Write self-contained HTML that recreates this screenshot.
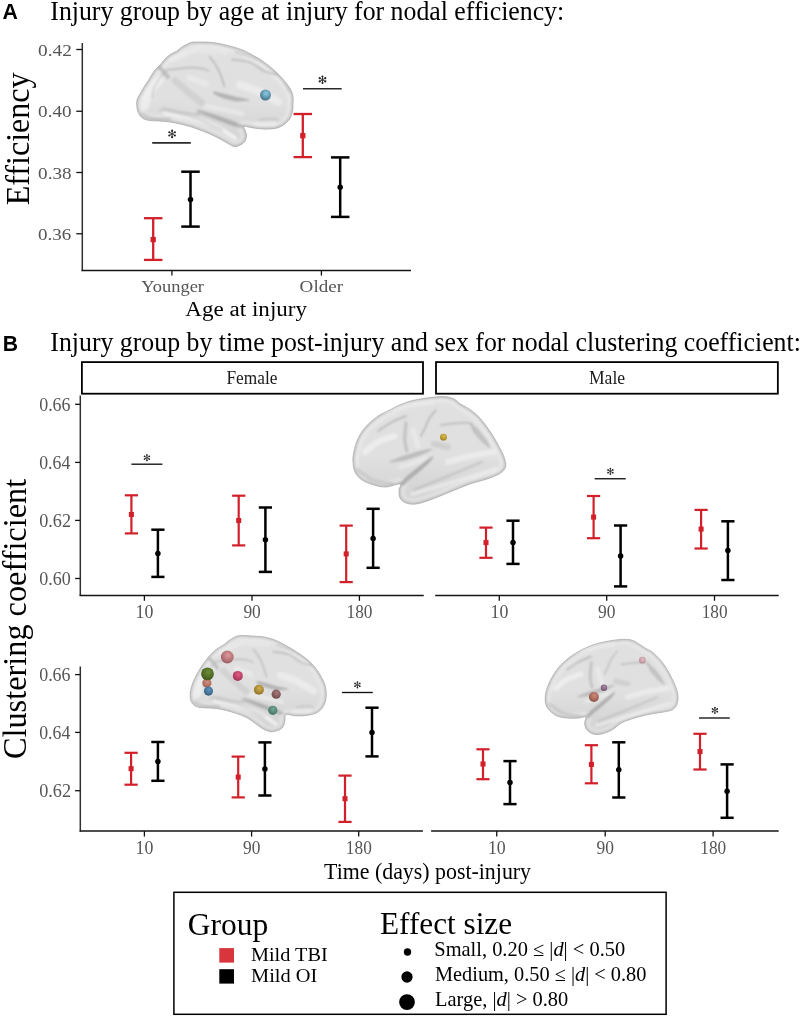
<!DOCTYPE html>
<html><head><meta charset="utf-8"><title>Figure</title>
<style>html,body{margin:0;padding:0;background:#fff;}svg{display:block;}</style></head>
<body><svg width="800" height="1017" viewBox="0 0 800 1017" style="will-change:transform">
<rect width="800" height="1017" fill="#fff"/>
<defs><filter id="soft" x="-10%" y="-10%" width="120%" height="120%"><feGaussianBlur stdDeviation="0.9"/></filter><filter id="blur2" x="-10%" y="-10%" width="120%" height="120%"><feGaussianBlur stdDeviation="1.8"/></filter></defs>
<text x="2.47" y="18.75" font-family="Liberation Sans" font-size="22" font-weight="bold" fill="#000" textLength="15.36" lengthAdjust="spacingAndGlyphs">A</text>
<text x="50.30" y="19.60" font-family="Liberation Serif" font-size="26.5" fill="#000" textLength="513.88" lengthAdjust="spacingAndGlyphs">Injury group by age at injury for nodal efficiency:</text>
<clipPath id="bc1"><path d="M200.00,42.00C196.83,42.03 194.00,41.67 191.00,42.50C188.00,43.33 184.33,45.58 182.00,47.00C179.67,48.42 178.83,49.83 177.00,51.00C175.17,52.17 173.00,52.67 171.00,54.00C169.00,55.33 166.83,57.17 165.00,59.00C163.17,60.83 161.67,63.17 160.00,65.00C158.33,66.83 156.50,68.17 155.00,70.00C153.50,71.83 152.17,74.17 151.00,76.00C149.83,77.83 149.17,79.17 148.00,81.00C146.83,82.83 145.33,84.83 144.00,87.00C142.67,89.17 141.17,91.83 140.00,94.00C138.83,96.17 137.50,97.67 137.00,100.00C136.50,102.33 136.67,105.67 137.00,108.00C137.33,110.33 138.00,112.25 139.00,114.00C140.00,115.75 141.17,117.42 143.00,118.50C144.83,119.58 147.17,120.08 150.00,120.50C152.83,120.92 156.67,120.75 160.00,121.00C163.33,121.25 166.67,121.50 170.00,122.00C173.33,122.50 176.67,123.25 180.00,124.00C183.33,124.75 186.67,125.50 190.00,126.50C193.33,127.50 196.67,128.75 200.00,130.00C203.33,131.25 206.67,132.50 210.00,134.00C213.33,135.50 217.00,137.42 220.00,139.00C223.00,140.58 225.60,142.23 228.00,143.50C230.40,144.77 232.32,146.37 234.40,146.60C236.48,146.83 238.75,145.77 240.50,144.90C242.25,144.03 243.88,142.87 244.90,141.40C245.92,139.93 246.47,137.72 246.60,136.10C246.73,134.48 246.13,133.30 245.70,131.70C245.27,130.10 243.27,127.22 244.00,126.50C244.73,125.78 247.62,127.03 250.10,127.40C252.58,127.77 255.68,128.42 258.90,128.70C262.12,128.98 266.05,129.32 269.40,129.10C272.75,128.88 276.23,128.42 279.00,127.40C281.77,126.38 284.10,124.62 286.00,123.00C287.90,121.38 289.30,119.75 290.40,117.70C291.50,115.65 292.17,113.03 292.60,110.70C293.03,108.37 292.95,106.25 293.00,103.70C293.05,101.15 293.45,98.02 292.90,95.40C292.35,92.78 291.47,90.83 289.70,88.00C287.93,85.17 284.95,81.42 282.30,78.40C279.65,75.38 277.00,72.73 273.80,69.90C270.60,67.07 266.65,63.88 263.10,61.40C259.55,58.92 256.03,56.95 252.50,55.00C248.97,53.05 245.43,51.12 241.90,49.70C238.37,48.28 234.85,47.48 231.30,46.50C227.75,45.52 224.15,44.50 220.60,43.80C217.05,43.10 213.43,42.60 210.00,42.30C206.57,42.00 203.17,41.97 200.00,42.00Z"/></clipPath>
<path d="M200.00,42.00C196.83,42.03 194.00,41.67 191.00,42.50C188.00,43.33 184.33,45.58 182.00,47.00C179.67,48.42 178.83,49.83 177.00,51.00C175.17,52.17 173.00,52.67 171.00,54.00C169.00,55.33 166.83,57.17 165.00,59.00C163.17,60.83 161.67,63.17 160.00,65.00C158.33,66.83 156.50,68.17 155.00,70.00C153.50,71.83 152.17,74.17 151.00,76.00C149.83,77.83 149.17,79.17 148.00,81.00C146.83,82.83 145.33,84.83 144.00,87.00C142.67,89.17 141.17,91.83 140.00,94.00C138.83,96.17 137.50,97.67 137.00,100.00C136.50,102.33 136.67,105.67 137.00,108.00C137.33,110.33 138.00,112.25 139.00,114.00C140.00,115.75 141.17,117.42 143.00,118.50C144.83,119.58 147.17,120.08 150.00,120.50C152.83,120.92 156.67,120.75 160.00,121.00C163.33,121.25 166.67,121.50 170.00,122.00C173.33,122.50 176.67,123.25 180.00,124.00C183.33,124.75 186.67,125.50 190.00,126.50C193.33,127.50 196.67,128.75 200.00,130.00C203.33,131.25 206.67,132.50 210.00,134.00C213.33,135.50 217.00,137.42 220.00,139.00C223.00,140.58 225.60,142.23 228.00,143.50C230.40,144.77 232.32,146.37 234.40,146.60C236.48,146.83 238.75,145.77 240.50,144.90C242.25,144.03 243.88,142.87 244.90,141.40C245.92,139.93 246.47,137.72 246.60,136.10C246.73,134.48 246.13,133.30 245.70,131.70C245.27,130.10 243.27,127.22 244.00,126.50C244.73,125.78 247.62,127.03 250.10,127.40C252.58,127.77 255.68,128.42 258.90,128.70C262.12,128.98 266.05,129.32 269.40,129.10C272.75,128.88 276.23,128.42 279.00,127.40C281.77,126.38 284.10,124.62 286.00,123.00C287.90,121.38 289.30,119.75 290.40,117.70C291.50,115.65 292.17,113.03 292.60,110.70C293.03,108.37 292.95,106.25 293.00,103.70C293.05,101.15 293.45,98.02 292.90,95.40C292.35,92.78 291.47,90.83 289.70,88.00C287.93,85.17 284.95,81.42 282.30,78.40C279.65,75.38 277.00,72.73 273.80,69.90C270.60,67.07 266.65,63.88 263.10,61.40C259.55,58.92 256.03,56.95 252.50,55.00C248.97,53.05 245.43,51.12 241.90,49.70C238.37,48.28 234.85,47.48 231.30,46.50C227.75,45.52 224.15,44.50 220.60,43.80C217.05,43.10 213.43,42.60 210.00,42.30C206.57,42.00 203.17,41.97 200.00,42.00Z" fill="#e0e0e0"/>
<linearGradient id="vg1" gradientUnits="userSpaceOnUse" x1="0" y1="42.0" x2="0" y2="146.6"><stop offset="0" stop-color="#000" stop-opacity="0"/><stop offset="0.55" stop-color="#000" stop-opacity="0"/><stop offset="1" stop-color="#000" stop-opacity="0.07"/></linearGradient>
<g clip-path="url(#bc1)">
<path d="M200.00,42.00C196.83,42.03 194.00,41.67 191.00,42.50C188.00,43.33 184.33,45.58 182.00,47.00C179.67,48.42 178.83,49.83 177.00,51.00C175.17,52.17 173.00,52.67 171.00,54.00C169.00,55.33 166.83,57.17 165.00,59.00C163.17,60.83 161.67,63.17 160.00,65.00C158.33,66.83 156.50,68.17 155.00,70.00C153.50,71.83 152.17,74.17 151.00,76.00C149.83,77.83 149.17,79.17 148.00,81.00C146.83,82.83 145.33,84.83 144.00,87.00C142.67,89.17 141.17,91.83 140.00,94.00C138.83,96.17 137.50,97.67 137.00,100.00C136.50,102.33 136.67,105.67 137.00,108.00C137.33,110.33 138.00,112.25 139.00,114.00C140.00,115.75 141.17,117.42 143.00,118.50C144.83,119.58 147.17,120.08 150.00,120.50C152.83,120.92 156.67,120.75 160.00,121.00C163.33,121.25 166.67,121.50 170.00,122.00C173.33,122.50 176.67,123.25 180.00,124.00C183.33,124.75 186.67,125.50 190.00,126.50C193.33,127.50 196.67,128.75 200.00,130.00C203.33,131.25 206.67,132.50 210.00,134.00C213.33,135.50 217.00,137.42 220.00,139.00C223.00,140.58 225.60,142.23 228.00,143.50C230.40,144.77 232.32,146.37 234.40,146.60C236.48,146.83 238.75,145.77 240.50,144.90C242.25,144.03 243.88,142.87 244.90,141.40C245.92,139.93 246.47,137.72 246.60,136.10C246.73,134.48 246.13,133.30 245.70,131.70C245.27,130.10 243.27,127.22 244.00,126.50C244.73,125.78 247.62,127.03 250.10,127.40C252.58,127.77 255.68,128.42 258.90,128.70C262.12,128.98 266.05,129.32 269.40,129.10C272.75,128.88 276.23,128.42 279.00,127.40C281.77,126.38 284.10,124.62 286.00,123.00C287.90,121.38 289.30,119.75 290.40,117.70C291.50,115.65 292.17,113.03 292.60,110.70C293.03,108.37 292.95,106.25 293.00,103.70C293.05,101.15 293.45,98.02 292.90,95.40C292.35,92.78 291.47,90.83 289.70,88.00C287.93,85.17 284.95,81.42 282.30,78.40C279.65,75.38 277.00,72.73 273.80,69.90C270.60,67.07 266.65,63.88 263.10,61.40C259.55,58.92 256.03,56.95 252.50,55.00C248.97,53.05 245.43,51.12 241.90,49.70C238.37,48.28 234.85,47.48 231.30,46.50C227.75,45.52 224.15,44.50 220.60,43.80C217.05,43.10 213.43,42.60 210.00,42.30C206.57,42.00 203.17,41.97 200.00,42.00Z" fill="url(#vg1)"/>
<path d="M200.00,42.00C196.83,42.03 194.00,41.67 191.00,42.50C188.00,43.33 184.33,45.58 182.00,47.00C179.67,48.42 178.83,49.83 177.00,51.00C175.17,52.17 173.00,52.67 171.00,54.00C169.00,55.33 166.83,57.17 165.00,59.00C163.17,60.83 161.67,63.17 160.00,65.00C158.33,66.83 156.50,68.17 155.00,70.00C153.50,71.83 152.17,74.17 151.00,76.00C149.83,77.83 149.17,79.17 148.00,81.00C146.83,82.83 145.33,84.83 144.00,87.00C142.67,89.17 141.17,91.83 140.00,94.00C138.83,96.17 137.50,97.67 137.00,100.00C136.50,102.33 136.67,105.67 137.00,108.00C137.33,110.33 138.00,112.25 139.00,114.00C140.00,115.75 141.17,117.42 143.00,118.50C144.83,119.58 147.17,120.08 150.00,120.50C152.83,120.92 156.67,120.75 160.00,121.00C163.33,121.25 166.67,121.50 170.00,122.00C173.33,122.50 176.67,123.25 180.00,124.00C183.33,124.75 186.67,125.50 190.00,126.50C193.33,127.50 196.67,128.75 200.00,130.00C203.33,131.25 206.67,132.50 210.00,134.00C213.33,135.50 217.00,137.42 220.00,139.00C223.00,140.58 225.60,142.23 228.00,143.50C230.40,144.77 232.32,146.37 234.40,146.60C236.48,146.83 238.75,145.77 240.50,144.90C242.25,144.03 243.88,142.87 244.90,141.40C245.92,139.93 246.47,137.72 246.60,136.10C246.73,134.48 246.13,133.30 245.70,131.70C245.27,130.10 243.27,127.22 244.00,126.50C244.73,125.78 247.62,127.03 250.10,127.40C252.58,127.77 255.68,128.42 258.90,128.70C262.12,128.98 266.05,129.32 269.40,129.10C272.75,128.88 276.23,128.42 279.00,127.40C281.77,126.38 284.10,124.62 286.00,123.00C287.90,121.38 289.30,119.75 290.40,117.70C291.50,115.65 292.17,113.03 292.60,110.70C293.03,108.37 292.95,106.25 293.00,103.70C293.05,101.15 293.45,98.02 292.90,95.40C292.35,92.78 291.47,90.83 289.70,88.00C287.93,85.17 284.95,81.42 282.30,78.40C279.65,75.38 277.00,72.73 273.80,69.90C270.60,67.07 266.65,63.88 263.10,61.40C259.55,58.92 256.03,56.95 252.50,55.00C248.97,53.05 245.43,51.12 241.90,49.70C238.37,48.28 234.85,47.48 231.30,46.50C227.75,45.52 224.15,44.50 220.60,43.80C217.05,43.10 213.43,42.60 210.00,42.30C206.57,42.00 203.17,41.97 200.00,42.00Z" fill="none" stroke="#f0f0f0" stroke-width="12.00" stroke-opacity="0.5" filter="url(#blur2)"/>
<path d="M200.00,42.00C196.83,42.03 194.00,41.67 191.00,42.50C188.00,43.33 184.33,45.58 182.00,47.00C179.67,48.42 178.83,49.83 177.00,51.00C175.17,52.17 173.00,52.67 171.00,54.00C169.00,55.33 166.83,57.17 165.00,59.00C163.17,60.83 161.67,63.17 160.00,65.00C158.33,66.83 156.50,68.17 155.00,70.00C153.50,71.83 152.17,74.17 151.00,76.00C149.83,77.83 149.17,79.17 148.00,81.00C146.83,82.83 145.33,84.83 144.00,87.00C142.67,89.17 141.17,91.83 140.00,94.00C138.83,96.17 137.50,97.67 137.00,100.00C136.50,102.33 136.67,105.67 137.00,108.00C137.33,110.33 138.00,112.25 139.00,114.00C140.00,115.75 141.17,117.42 143.00,118.50C144.83,119.58 147.17,120.08 150.00,120.50C152.83,120.92 156.67,120.75 160.00,121.00C163.33,121.25 166.67,121.50 170.00,122.00C173.33,122.50 176.67,123.25 180.00,124.00C183.33,124.75 186.67,125.50 190.00,126.50C193.33,127.50 196.67,128.75 200.00,130.00C203.33,131.25 206.67,132.50 210.00,134.00C213.33,135.50 217.00,137.42 220.00,139.00C223.00,140.58 225.60,142.23 228.00,143.50C230.40,144.77 232.32,146.37 234.40,146.60C236.48,146.83 238.75,145.77 240.50,144.90C242.25,144.03 243.88,142.87 244.90,141.40C245.92,139.93 246.47,137.72 246.60,136.10C246.73,134.48 246.13,133.30 245.70,131.70C245.27,130.10 243.27,127.22 244.00,126.50C244.73,125.78 247.62,127.03 250.10,127.40C252.58,127.77 255.68,128.42 258.90,128.70C262.12,128.98 266.05,129.32 269.40,129.10C272.75,128.88 276.23,128.42 279.00,127.40C281.77,126.38 284.10,124.62 286.00,123.00C287.90,121.38 289.30,119.75 290.40,117.70C291.50,115.65 292.17,113.03 292.60,110.70C293.03,108.37 292.95,106.25 293.00,103.70C293.05,101.15 293.45,98.02 292.90,95.40C292.35,92.78 291.47,90.83 289.70,88.00C287.93,85.17 284.95,81.42 282.30,78.40C279.65,75.38 277.00,72.73 273.80,69.90C270.60,67.07 266.65,63.88 263.10,61.40C259.55,58.92 256.03,56.95 252.50,55.00C248.97,53.05 245.43,51.12 241.90,49.70C238.37,48.28 234.85,47.48 231.30,46.50C227.75,45.52 224.15,44.50 220.60,43.80C217.05,43.10 213.43,42.60 210.00,42.30C206.57,42.00 203.17,41.97 200.00,42.00Z" fill="none" stroke="#a0a0a0" stroke-width="3.50" stroke-opacity="0.5" filter="url(#soft)"/>
<g filter="url(#soft)">
<path d="M165.00,113.00C169.17,113.83 181.67,115.83 190.00,118.00C198.33,120.17 207.50,122.67 215.00,126.00C222.50,129.33 231.67,136.00 235.00,138.00" stroke="#f3f3f3" stroke-width="4.50" stroke-opacity="0.85" fill="none" stroke-linecap="round"/>
<path d="M240.00,85.00C243.33,86.17 253.67,89.17 260.00,92.00C266.33,94.83 275.00,100.33 278.00,102.00" stroke="#efefef" stroke-width="8.00" stroke-opacity="0.7" fill="none" stroke-linecap="round"/>
<path d="M190.00,78.00C192.67,79.00 203.33,83.00 206.00,84.00" stroke="#eeeeee" stroke-width="6.00" stroke-opacity="0.6" fill="none" stroke-linecap="round"/>
<path d="M145.00,106.00C145.50,104.33 146.50,99.33 148.00,96.00C149.50,92.67 152.00,88.67 154.00,86.00C156.00,83.33 159.00,81.00 160.00,80.00" stroke="#f2f2f2" stroke-width="8.00" stroke-opacity="0.75" fill="none" stroke-linecap="round"/>
<path d="M255.00,124.00C258.33,124.00 271.67,124.00 275.00,124.00" stroke="#f0f0f0" stroke-width="4.00" stroke-opacity="0.6" fill="none" stroke-linecap="round"/>
<path d="M200.00,50.00C204.17,50.33 220.83,51.67 225.00,52.00" stroke="#ececec" stroke-width="6.00" stroke-opacity="0.5" fill="none" stroke-linecap="round"/>
<path d="M205.00,106.00C208.33,106.67 218.83,108.67 225.00,110.00C231.17,111.33 239.17,113.33 242.00,114.00" stroke="#efefef" stroke-width="5.00" stroke-opacity="0.6" fill="none" stroke-linecap="round"/>
<path d="M172.00,60.00C174.17,59.00 181.00,55.67 185.00,54.00C189.00,52.33 194.17,50.67 196.00,50.00" stroke="#eeeeee" stroke-width="5.00" stroke-opacity="0.6" fill="none" stroke-linecap="round"/>
<path d="M159.00,67.00C159.83,67.83 162.50,70.33 164.00,72.00C165.50,73.67 167.33,76.17 168.00,77.00" stroke="#a4a4a4" stroke-width="4.00" stroke-opacity="0.55" fill="none" stroke-linecap="round"/>
<path d="M168.00,69.00C166.67,70.50 162.33,74.83 160.00,78.00C157.67,81.17 155.33,84.67 154.00,88.00C152.67,91.33 152.33,96.33 152.00,98.00" stroke="#a8a8a8" stroke-width="1.20" stroke-opacity="0.6" fill="none" stroke-linecap="round"/>
<path d="M169.00,70.00C170.83,69.75 176.50,68.88 180.00,68.50C183.50,68.12 186.33,67.70 190.00,67.70C193.67,67.70 198.83,67.95 202.00,68.50C205.17,69.05 207.83,70.58 209.00,71.00" stroke="#8c8c8c" stroke-width="1.00" stroke-opacity="0.7" fill="none" stroke-linecap="round"/>
<path d="M209.50,56.50C210.42,57.75 213.25,61.25 215.00,64.00C216.75,66.75 218.42,69.25 220.00,73.00C221.58,76.75 223.75,84.25 224.50,86.50" stroke="#959595" stroke-width="1.20" stroke-opacity="0.7" fill="none" stroke-linecap="round"/>
<path d="M232.00,59.50C235.00,60.00 244.50,60.50 250.00,62.50C255.50,64.50 260.50,69.50 265.00,71.50C269.50,73.50 275.00,74.00 277.00,74.50" stroke="#9c9c9c" stroke-width="1.30" stroke-opacity="0.7" fill="none" stroke-linecap="round"/>
<path d="M175.00,80.50C177.17,82.42 183.50,88.25 188.00,92.00C192.50,95.75 199.67,101.17 202.00,103.00" stroke="#c0c0c0" stroke-width="7.00" stroke-opacity="0.45" fill="none" stroke-linecap="round"/>
<path d="M197.50,112.00C200.42,113.00 208.75,115.83 215.00,118.00C221.25,120.17 231.67,123.83 235.00,125.00" stroke="#a8a8a8" stroke-width="3.00" stroke-opacity="0.5" fill="none" stroke-linecap="round"/>
<path d="M160.00,110.00C163.33,110.67 173.33,112.33 180.00,114.00C186.67,115.67 193.00,117.33 200.00,120.00C207.00,122.67 218.33,128.33 222.00,130.00" stroke="#b4b4b4" stroke-width="2.20" stroke-opacity="0.45" fill="none" stroke-linecap="round"/>
<path d="M259.00,120.00C261.17,119.77 268.67,118.53 272.00,118.60C275.33,118.67 277.83,120.10 279.00,120.40" stroke="#a0a0a0" stroke-width="1.00" stroke-opacity="0.6" fill="none" stroke-linecap="round"/>
<path d="M236.00,52.00C240.00,53.33 252.67,56.17 260.00,60.00C267.33,63.83 275.00,69.67 280.00,75.00C285.00,80.33 288.33,89.17 290.00,92.00" stroke="#c4c4c4" stroke-width="3.00" stroke-opacity="0.6" fill="none" stroke-linecap="round"/>
<path d="M142.00,114.00C143.67,114.75 147.33,117.67 152.00,118.50C156.67,119.33 167.00,118.92 170.00,119.00" stroke="#b4b4b4" stroke-width="3.00" stroke-opacity="0.6" fill="none" stroke-linecap="round"/>
<path d="M163.00,108.00C165.83,108.67 174.17,110.83 180.00,112.00C185.83,113.17 195.00,114.50 198.00,115.00" stroke="#b0b0b0" stroke-width="2.00" stroke-opacity="0.5" fill="none" stroke-linecap="round"/>
<path d="M244.00,126.50L232.00,121.00L215.00,115.00L198.00,110.00L214.00,117.50L230.00,124.00L240.00,127.50Z" fill="#a4a4a4" fill-opacity="0.6" stroke="#a4a4a4" stroke-opacity="0.6" stroke-width="1.20" stroke-linejoin="round"/>
<path d="M214.00,92.00L225.00,94.50L236.00,97.50L249.00,100.00L236.00,101.00L224.00,98.00L214.00,93.50Z" fill="#a0a0a0" fill-opacity="0.65" stroke="#a0a0a0" stroke-opacity="0.65" stroke-width="1.20" stroke-linejoin="round"/>
</g></g>
<path d="M200.00,42.00C196.83,42.03 194.00,41.67 191.00,42.50C188.00,43.33 184.33,45.58 182.00,47.00C179.67,48.42 178.83,49.83 177.00,51.00C175.17,52.17 173.00,52.67 171.00,54.00C169.00,55.33 166.83,57.17 165.00,59.00C163.17,60.83 161.67,63.17 160.00,65.00C158.33,66.83 156.50,68.17 155.00,70.00C153.50,71.83 152.17,74.17 151.00,76.00C149.83,77.83 149.17,79.17 148.00,81.00C146.83,82.83 145.33,84.83 144.00,87.00C142.67,89.17 141.17,91.83 140.00,94.00C138.83,96.17 137.50,97.67 137.00,100.00C136.50,102.33 136.67,105.67 137.00,108.00C137.33,110.33 138.00,112.25 139.00,114.00C140.00,115.75 141.17,117.42 143.00,118.50C144.83,119.58 147.17,120.08 150.00,120.50C152.83,120.92 156.67,120.75 160.00,121.00C163.33,121.25 166.67,121.50 170.00,122.00C173.33,122.50 176.67,123.25 180.00,124.00C183.33,124.75 186.67,125.50 190.00,126.50C193.33,127.50 196.67,128.75 200.00,130.00C203.33,131.25 206.67,132.50 210.00,134.00C213.33,135.50 217.00,137.42 220.00,139.00C223.00,140.58 225.60,142.23 228.00,143.50C230.40,144.77 232.32,146.37 234.40,146.60C236.48,146.83 238.75,145.77 240.50,144.90C242.25,144.03 243.88,142.87 244.90,141.40C245.92,139.93 246.47,137.72 246.60,136.10C246.73,134.48 246.13,133.30 245.70,131.70C245.27,130.10 243.27,127.22 244.00,126.50C244.73,125.78 247.62,127.03 250.10,127.40C252.58,127.77 255.68,128.42 258.90,128.70C262.12,128.98 266.05,129.32 269.40,129.10C272.75,128.88 276.23,128.42 279.00,127.40C281.77,126.38 284.10,124.62 286.00,123.00C287.90,121.38 289.30,119.75 290.40,117.70C291.50,115.65 292.17,113.03 292.60,110.70C293.03,108.37 292.95,106.25 293.00,103.70C293.05,101.15 293.45,98.02 292.90,95.40C292.35,92.78 291.47,90.83 289.70,88.00C287.93,85.17 284.95,81.42 282.30,78.40C279.65,75.38 277.00,72.73 273.80,69.90C270.60,67.07 266.65,63.88 263.10,61.40C259.55,58.92 256.03,56.95 252.50,55.00C248.97,53.05 245.43,51.12 241.90,49.70C238.37,48.28 234.85,47.48 231.30,46.50C227.75,45.52 224.15,44.50 220.60,43.80C217.05,43.10 213.43,42.60 210.00,42.30C206.57,42.00 203.17,41.97 200.00,42.00Z" fill="none" stroke="#aaaaaa" stroke-width="0.7"/>
<radialGradient id="sp1_265_95" cx="0.55" cy="0.36" r="0.7"><stop offset="0" stop-color="#8ccbe4"/><stop offset="1" stop-color="#3e6a80"/></radialGradient>
<circle cx="265.5" cy="95" r="5.5" fill="url(#sp1_265_95)"/>
<line x1="82.30" y1="43.00" x2="82.30" y2="271.10" stroke="#303030" stroke-width="1.5"/>
<line x1="81.60" y1="270.50" x2="411.00" y2="270.50" stroke="#151515" stroke-width="1.5"/>
<line x1="76.30" y1="49.50" x2="82.30" y2="49.50" stroke="#111" stroke-width="1.3"/>
<text x="38.08" y="55.50" font-family="Liberation Serif" font-size="17.3" fill="#555555" textLength="33.73" lengthAdjust="spacingAndGlyphs">0.42</text>
<line x1="76.30" y1="111.25" x2="82.30" y2="111.25" stroke="#111" stroke-width="1.3"/>
<text x="38.09" y="117.25" font-family="Liberation Serif" font-size="17.3" fill="#555555" textLength="33.43" lengthAdjust="spacingAndGlyphs">0.40</text>
<line x1="76.30" y1="172.50" x2="82.30" y2="172.50" stroke="#111" stroke-width="1.3"/>
<text x="38.09" y="178.50" font-family="Liberation Serif" font-size="17.3" fill="#555555" textLength="33.43" lengthAdjust="spacingAndGlyphs">0.38</text>
<line x1="76.30" y1="233.75" x2="82.30" y2="233.75" stroke="#111" stroke-width="1.3"/>
<text x="38.09" y="239.75" font-family="Liberation Serif" font-size="17.3" fill="#555555" textLength="33.23" lengthAdjust="spacingAndGlyphs">0.36</text>
<line x1="171.90" y1="270.50" x2="171.90" y2="275.60" stroke="#111" stroke-width="1.3"/>
<line x1="321.40" y1="270.50" x2="321.40" y2="275.60" stroke="#111" stroke-width="1.3"/>
<text x="141.32" y="291.80" font-family="Liberation Serif" font-size="17.3" fill="#555555" textLength="62.65" lengthAdjust="spacingAndGlyphs">Younger</text>
<text x="299.64" y="292.00" font-family="Liberation Serif" font-size="17.3" fill="#555555" textLength="43.39" lengthAdjust="spacingAndGlyphs">Older</text>
<text x="185.37" y="315.60" font-family="Liberation Serif" font-size="20.8" fill="#000" textLength="121.68" lengthAdjust="spacingAndGlyphs">Age at injury</text>
<text transform="translate(28.60,204.40) rotate(-90)" x="-0.96" y="0" font-family="Liberation Serif" font-size="34" fill="#000" textLength="132.95" lengthAdjust="spacingAndGlyphs">Efficiency</text>
<line x1="153.20" y1="218.20" x2="153.20" y2="259.90" stroke="#d2202b" stroke-width="2.3"/>
<line x1="143.95" y1="218.20" x2="162.45" y2="218.20" stroke="#d2202b" stroke-width="2.3"/>
<line x1="143.95" y1="259.90" x2="162.45" y2="259.90" stroke="#d2202b" stroke-width="2.3"/>
<rect x="150.55" y="236.95" width="5.29" height="5.29" fill="#d2202b"/>
<line x1="190.50" y1="171.70" x2="190.50" y2="226.60" stroke="#000000" stroke-width="2.5"/>
<line x1="181.25" y1="171.70" x2="199.75" y2="171.70" stroke="#000000" stroke-width="2.5"/>
<line x1="181.25" y1="226.60" x2="199.75" y2="226.60" stroke="#000000" stroke-width="2.5"/>
<circle cx="190.50" cy="199.40" r="2.75" fill="#000000"/>
<line x1="302.80" y1="114.00" x2="302.80" y2="157.10" stroke="#d2202b" stroke-width="2.3"/>
<line x1="293.55" y1="114.00" x2="312.05" y2="114.00" stroke="#d2202b" stroke-width="2.3"/>
<line x1="293.55" y1="157.10" x2="312.05" y2="157.10" stroke="#d2202b" stroke-width="2.3"/>
<rect x="300.16" y="133.05" width="5.29" height="5.29" fill="#d2202b"/>
<line x1="340.20" y1="157.40" x2="340.20" y2="216.90" stroke="#000000" stroke-width="2.5"/>
<line x1="330.95" y1="157.40" x2="349.45" y2="157.40" stroke="#000000" stroke-width="2.5"/>
<line x1="330.95" y1="216.90" x2="349.45" y2="216.90" stroke="#000000" stroke-width="2.5"/>
<circle cx="340.20" cy="187.30" r="2.75" fill="#000000"/>
<line x1="152.20" y1="142.90" x2="190.80" y2="142.90" stroke="#2a2a2a" stroke-width="1.6"/>
<path d="M172.10,130.65L172.10,137.15M169.29,132.28L174.91,135.53M169.29,135.53L174.91,132.28" stroke="#3a3a3a" stroke-width="1.0" fill="none"/>
<g fill="#222"><circle cx="172.10" cy="130.65" r="1.05"/><circle cx="172.10" cy="137.15" r="1.05"/><circle cx="169.29" cy="132.28" r="1.05"/><circle cx="174.91" cy="135.53" r="1.05"/><circle cx="169.29" cy="135.53" r="1.05"/><circle cx="174.91" cy="132.28" r="1.05"/></g>
<line x1="303.00" y1="88.70" x2="341.70" y2="88.70" stroke="#2a2a2a" stroke-width="1.6"/>
<path d="M322.50,76.55L322.50,83.05M319.69,78.17L325.31,81.42M319.69,81.42L325.31,78.17" stroke="#3a3a3a" stroke-width="1.0" fill="none"/>
<g fill="#222"><circle cx="322.50" cy="76.55" r="1.05"/><circle cx="322.50" cy="83.05" r="1.05"/><circle cx="319.69" cy="78.17" r="1.05"/><circle cx="325.31" cy="81.42" r="1.05"/><circle cx="319.69" cy="81.42" r="1.05"/><circle cx="325.31" cy="78.17" r="1.05"/></g>
<text x="2.63" y="351.00" font-family="Liberation Sans" font-size="22" font-weight="bold" fill="#000" textLength="15.27" lengthAdjust="spacingAndGlyphs">B</text>
<text x="50.35" y="351.25" font-family="Liberation Serif" font-size="26.5" fill="#000" textLength="750.48" lengthAdjust="spacingAndGlyphs">Injury group by time post-injury and sex for nodal clustering coefficient:</text>
<rect x="81.9" y="362.1" width="341.1" height="31.6" fill="#fff" stroke="#000" stroke-width="1.8"/>
<rect x="436.0" y="362.1" width="341.85" height="31.6" fill="#fff" stroke="#000" stroke-width="1.8"/>
<text x="226.48" y="384.00" font-family="Liberation Serif" font-size="18.3" fill="#1a1a1a" textLength="50.89" lengthAdjust="spacingAndGlyphs">Female</text>
<text x="588.97" y="384.00" font-family="Liberation Serif" font-size="18.3" fill="#1a1a1a" textLength="36.14" lengthAdjust="spacingAndGlyphs">Male</text>
<clipPath id="bc2"><path d="M355.00,472.00C353.50,469.00 353.28,464.83 353.00,462.00C352.72,459.17 352.73,458.27 353.30,455.00C353.87,451.73 355.00,446.25 356.40,442.40C357.80,438.55 359.60,435.05 361.70,431.90C363.80,428.75 366.03,426.30 369.00,423.50C371.97,420.70 376.00,417.37 379.50,415.10C383.00,412.83 386.50,411.65 390.00,409.90C393.50,408.15 397.00,406.10 400.50,404.60C404.00,403.10 407.50,401.87 411.00,400.90C414.50,399.93 418.00,399.40 421.50,398.80C425.00,398.20 428.75,397.67 432.00,397.30C435.25,396.93 438.33,396.65 441.00,396.60C443.67,396.55 445.70,396.53 448.00,397.00C450.30,397.47 452.78,398.28 454.80,399.40C456.82,400.52 457.98,402.28 460.10,403.70C462.22,405.12 465.02,406.30 467.50,407.90C469.98,409.50 472.70,411.35 475.00,413.30C477.30,415.25 479.18,417.13 481.30,419.60C483.42,422.07 485.57,425.08 487.70,428.10C489.83,431.12 492.15,434.50 494.10,437.70C496.05,440.90 497.82,444.28 499.40,447.30C500.98,450.32 502.53,452.80 503.60,455.80C504.67,458.80 506.07,462.60 505.80,465.30C505.53,468.00 504.63,469.88 502.00,472.00C499.37,474.12 495.33,476.00 490.00,478.00C484.67,480.00 476.67,481.67 470.00,484.00C463.33,486.33 456.67,489.33 450.00,492.00C443.33,494.67 435.67,498.00 430.00,500.00C424.33,502.00 420.00,503.50 416.00,504.00C412.00,504.50 408.67,504.00 406.00,503.00C403.33,502.00 401.17,500.17 400.00,498.00C398.83,495.83 399.00,492.33 399.00,490.00C399.00,487.67 402.17,484.50 400.00,484.00C397.83,483.50 390.33,486.83 386.00,487.00C381.67,487.17 378.00,486.17 374.00,485.00C370.00,483.83 365.17,482.17 362.00,480.00C358.83,477.83 356.50,475.00 355.00,472.00Z"/></clipPath>
<path d="M355.00,472.00C353.50,469.00 353.28,464.83 353.00,462.00C352.72,459.17 352.73,458.27 353.30,455.00C353.87,451.73 355.00,446.25 356.40,442.40C357.80,438.55 359.60,435.05 361.70,431.90C363.80,428.75 366.03,426.30 369.00,423.50C371.97,420.70 376.00,417.37 379.50,415.10C383.00,412.83 386.50,411.65 390.00,409.90C393.50,408.15 397.00,406.10 400.50,404.60C404.00,403.10 407.50,401.87 411.00,400.90C414.50,399.93 418.00,399.40 421.50,398.80C425.00,398.20 428.75,397.67 432.00,397.30C435.25,396.93 438.33,396.65 441.00,396.60C443.67,396.55 445.70,396.53 448.00,397.00C450.30,397.47 452.78,398.28 454.80,399.40C456.82,400.52 457.98,402.28 460.10,403.70C462.22,405.12 465.02,406.30 467.50,407.90C469.98,409.50 472.70,411.35 475.00,413.30C477.30,415.25 479.18,417.13 481.30,419.60C483.42,422.07 485.57,425.08 487.70,428.10C489.83,431.12 492.15,434.50 494.10,437.70C496.05,440.90 497.82,444.28 499.40,447.30C500.98,450.32 502.53,452.80 503.60,455.80C504.67,458.80 506.07,462.60 505.80,465.30C505.53,468.00 504.63,469.88 502.00,472.00C499.37,474.12 495.33,476.00 490.00,478.00C484.67,480.00 476.67,481.67 470.00,484.00C463.33,486.33 456.67,489.33 450.00,492.00C443.33,494.67 435.67,498.00 430.00,500.00C424.33,502.00 420.00,503.50 416.00,504.00C412.00,504.50 408.67,504.00 406.00,503.00C403.33,502.00 401.17,500.17 400.00,498.00C398.83,495.83 399.00,492.33 399.00,490.00C399.00,487.67 402.17,484.50 400.00,484.00C397.83,483.50 390.33,486.83 386.00,487.00C381.67,487.17 378.00,486.17 374.00,485.00C370.00,483.83 365.17,482.17 362.00,480.00C358.83,477.83 356.50,475.00 355.00,472.00Z" fill="#e0e0e0"/>
<linearGradient id="vg2" gradientUnits="userSpaceOnUse" x1="0" y1="396.6" x2="0" y2="504.0"><stop offset="0" stop-color="#000" stop-opacity="0"/><stop offset="0.55" stop-color="#000" stop-opacity="0"/><stop offset="1" stop-color="#000" stop-opacity="0.07"/></linearGradient>
<g clip-path="url(#bc2)">
<path d="M355.00,472.00C353.50,469.00 353.28,464.83 353.00,462.00C352.72,459.17 352.73,458.27 353.30,455.00C353.87,451.73 355.00,446.25 356.40,442.40C357.80,438.55 359.60,435.05 361.70,431.90C363.80,428.75 366.03,426.30 369.00,423.50C371.97,420.70 376.00,417.37 379.50,415.10C383.00,412.83 386.50,411.65 390.00,409.90C393.50,408.15 397.00,406.10 400.50,404.60C404.00,403.10 407.50,401.87 411.00,400.90C414.50,399.93 418.00,399.40 421.50,398.80C425.00,398.20 428.75,397.67 432.00,397.30C435.25,396.93 438.33,396.65 441.00,396.60C443.67,396.55 445.70,396.53 448.00,397.00C450.30,397.47 452.78,398.28 454.80,399.40C456.82,400.52 457.98,402.28 460.10,403.70C462.22,405.12 465.02,406.30 467.50,407.90C469.98,409.50 472.70,411.35 475.00,413.30C477.30,415.25 479.18,417.13 481.30,419.60C483.42,422.07 485.57,425.08 487.70,428.10C489.83,431.12 492.15,434.50 494.10,437.70C496.05,440.90 497.82,444.28 499.40,447.30C500.98,450.32 502.53,452.80 503.60,455.80C504.67,458.80 506.07,462.60 505.80,465.30C505.53,468.00 504.63,469.88 502.00,472.00C499.37,474.12 495.33,476.00 490.00,478.00C484.67,480.00 476.67,481.67 470.00,484.00C463.33,486.33 456.67,489.33 450.00,492.00C443.33,494.67 435.67,498.00 430.00,500.00C424.33,502.00 420.00,503.50 416.00,504.00C412.00,504.50 408.67,504.00 406.00,503.00C403.33,502.00 401.17,500.17 400.00,498.00C398.83,495.83 399.00,492.33 399.00,490.00C399.00,487.67 402.17,484.50 400.00,484.00C397.83,483.50 390.33,486.83 386.00,487.00C381.67,487.17 378.00,486.17 374.00,485.00C370.00,483.83 365.17,482.17 362.00,480.00C358.83,477.83 356.50,475.00 355.00,472.00Z" fill="url(#vg2)"/>
<path d="M355.00,472.00C353.50,469.00 353.28,464.83 353.00,462.00C352.72,459.17 352.73,458.27 353.30,455.00C353.87,451.73 355.00,446.25 356.40,442.40C357.80,438.55 359.60,435.05 361.70,431.90C363.80,428.75 366.03,426.30 369.00,423.50C371.97,420.70 376.00,417.37 379.50,415.10C383.00,412.83 386.50,411.65 390.00,409.90C393.50,408.15 397.00,406.10 400.50,404.60C404.00,403.10 407.50,401.87 411.00,400.90C414.50,399.93 418.00,399.40 421.50,398.80C425.00,398.20 428.75,397.67 432.00,397.30C435.25,396.93 438.33,396.65 441.00,396.60C443.67,396.55 445.70,396.53 448.00,397.00C450.30,397.47 452.78,398.28 454.80,399.40C456.82,400.52 457.98,402.28 460.10,403.70C462.22,405.12 465.02,406.30 467.50,407.90C469.98,409.50 472.70,411.35 475.00,413.30C477.30,415.25 479.18,417.13 481.30,419.60C483.42,422.07 485.57,425.08 487.70,428.10C489.83,431.12 492.15,434.50 494.10,437.70C496.05,440.90 497.82,444.28 499.40,447.30C500.98,450.32 502.53,452.80 503.60,455.80C504.67,458.80 506.07,462.60 505.80,465.30C505.53,468.00 504.63,469.88 502.00,472.00C499.37,474.12 495.33,476.00 490.00,478.00C484.67,480.00 476.67,481.67 470.00,484.00C463.33,486.33 456.67,489.33 450.00,492.00C443.33,494.67 435.67,498.00 430.00,500.00C424.33,502.00 420.00,503.50 416.00,504.00C412.00,504.50 408.67,504.00 406.00,503.00C403.33,502.00 401.17,500.17 400.00,498.00C398.83,495.83 399.00,492.33 399.00,490.00C399.00,487.67 402.17,484.50 400.00,484.00C397.83,483.50 390.33,486.83 386.00,487.00C381.67,487.17 378.00,486.17 374.00,485.00C370.00,483.83 365.17,482.17 362.00,480.00C358.83,477.83 356.50,475.00 355.00,472.00Z" fill="none" stroke="#f0f0f0" stroke-width="12.00" stroke-opacity="0.5" filter="url(#blur2)"/>
<path d="M355.00,472.00C353.50,469.00 353.28,464.83 353.00,462.00C352.72,459.17 352.73,458.27 353.30,455.00C353.87,451.73 355.00,446.25 356.40,442.40C357.80,438.55 359.60,435.05 361.70,431.90C363.80,428.75 366.03,426.30 369.00,423.50C371.97,420.70 376.00,417.37 379.50,415.10C383.00,412.83 386.50,411.65 390.00,409.90C393.50,408.15 397.00,406.10 400.50,404.60C404.00,403.10 407.50,401.87 411.00,400.90C414.50,399.93 418.00,399.40 421.50,398.80C425.00,398.20 428.75,397.67 432.00,397.30C435.25,396.93 438.33,396.65 441.00,396.60C443.67,396.55 445.70,396.53 448.00,397.00C450.30,397.47 452.78,398.28 454.80,399.40C456.82,400.52 457.98,402.28 460.10,403.70C462.22,405.12 465.02,406.30 467.50,407.90C469.98,409.50 472.70,411.35 475.00,413.30C477.30,415.25 479.18,417.13 481.30,419.60C483.42,422.07 485.57,425.08 487.70,428.10C489.83,431.12 492.15,434.50 494.10,437.70C496.05,440.90 497.82,444.28 499.40,447.30C500.98,450.32 502.53,452.80 503.60,455.80C504.67,458.80 506.07,462.60 505.80,465.30C505.53,468.00 504.63,469.88 502.00,472.00C499.37,474.12 495.33,476.00 490.00,478.00C484.67,480.00 476.67,481.67 470.00,484.00C463.33,486.33 456.67,489.33 450.00,492.00C443.33,494.67 435.67,498.00 430.00,500.00C424.33,502.00 420.00,503.50 416.00,504.00C412.00,504.50 408.67,504.00 406.00,503.00C403.33,502.00 401.17,500.17 400.00,498.00C398.83,495.83 399.00,492.33 399.00,490.00C399.00,487.67 402.17,484.50 400.00,484.00C397.83,483.50 390.33,486.83 386.00,487.00C381.67,487.17 378.00,486.17 374.00,485.00C370.00,483.83 365.17,482.17 362.00,480.00C358.83,477.83 356.50,475.00 355.00,472.00Z" fill="none" stroke="#a0a0a0" stroke-width="3.50" stroke-opacity="0.5" filter="url(#soft)"/>
<g filter="url(#soft)">
<path d="M365.00,452.00C367.17,450.33 373.17,444.67 378.00,442.00C382.83,439.33 391.33,437.00 394.00,436.00" stroke="#f0f0f0" stroke-width="6.00" stroke-opacity="0.8" fill="none" stroke-linecap="round"/>
<path d="M448.00,462.00C451.67,461.00 462.33,457.67 470.00,456.00C477.67,454.33 490.00,452.67 494.00,452.00" stroke="#f0f0f0" stroke-width="6.00" stroke-opacity="0.7" fill="none" stroke-linecap="round"/>
<path d="M412.00,494.00C416.67,492.67 430.33,488.83 440.00,486.00C449.67,483.17 460.67,479.83 470.00,477.00C479.33,474.17 491.67,470.33 496.00,469.00" stroke="#eeeeee" stroke-width="4.00" stroke-opacity="0.7" fill="none" stroke-linecap="round"/>
<path d="M385.00,411.00C389.17,410.00 402.17,406.50 410.00,405.00C417.83,403.50 428.33,402.50 432.00,402.00" stroke="#ebebeb" stroke-width="5.00" stroke-opacity="0.6" fill="none" stroke-linecap="round"/>
<path d="M413.00,430.00C413.83,432.67 417.17,443.33 418.00,446.00" stroke="#eeeeee" stroke-width="5.00" stroke-opacity="0.6" fill="none" stroke-linecap="round"/>
<path d="M400.00,467.00C402.33,466.33 409.67,464.50 414.00,463.00C418.33,461.50 424.00,458.83 426.00,458.00" stroke="#eeeeee" stroke-width="4.00" stroke-opacity="0.6" fill="none" stroke-linecap="round"/>
<path d="M378.00,431.00C380.33,429.50 387.33,424.50 392.00,422.00C396.67,419.50 403.67,417.00 406.00,416.00" stroke="#959595" stroke-width="1.40" stroke-opacity="0.7" fill="none" stroke-linecap="round"/>
<path d="M406.00,423.00C405.78,425.67 404.57,434.33 404.70,439.00C404.83,443.67 406.45,449.00 406.80,451.00" stroke="#acacac" stroke-width="3.00" stroke-opacity="0.6" fill="none" stroke-linecap="round"/>
<path d="M436.00,410.00C434.83,411.50 430.83,416.00 429.00,419.00C427.17,422.00 426.33,425.17 425.00,428.00C423.67,430.83 421.67,434.67 421.00,436.00" stroke="#8c8c8c" stroke-width="1.10" stroke-opacity="0.7" fill="none" stroke-linecap="round"/>
<path d="M440.50,425.00C442.58,424.75 448.75,423.88 453.00,423.50C457.25,423.12 462.83,422.62 466.00,422.70C469.17,422.78 471.00,423.78 472.00,424.00" stroke="#8c8c8c" stroke-width="1.10" stroke-opacity="0.7" fill="none" stroke-linecap="round"/>
<path d="M414.00,490.00C417.67,488.50 428.67,484.00 436.00,481.00C443.33,478.00 450.33,475.17 458.00,472.00C465.67,468.83 478.00,463.67 482.00,462.00" stroke="#b0b0b0" stroke-width="2.20" stroke-opacity="0.55" fill="none" stroke-linecap="round"/>
<path d="M358.00,470.00C360.33,471.67 366.33,477.67 372.00,480.00C377.67,482.33 388.67,483.33 392.00,484.00" stroke="#b4b4b4" stroke-width="4.00" stroke-opacity="0.5" fill="none" stroke-linecap="round"/>
<path d="M434.00,444.00C436.33,444.50 445.67,446.50 448.00,447.00" stroke="#c0c0c0" stroke-width="6.00" stroke-opacity="0.5" fill="none" stroke-linecap="round"/>
<path d="M400.00,484.00L408.00,476.00L418.00,468.00L428.00,460.00L433.00,457.00L428.00,463.00L418.00,472.00L408.00,480.00L403.00,485.00Z" fill="#a0a0a0" fill-opacity="0.7" stroke="#a0a0a0" stroke-opacity="0.7" stroke-width="1.20" stroke-linejoin="round"/>
<path d="M390.00,462.00L402.00,457.00L418.00,452.00L432.00,449.00L420.00,455.00L404.00,460.00Z" fill="#a8a8a8" fill-opacity="0.6" stroke="#a8a8a8" stroke-opacity="0.6" stroke-width="1.20" stroke-linejoin="round"/>
<path d="M470.00,423.00L478.00,430.00L486.00,440.00L490.00,448.00L482.00,441.00L474.00,432.00Z" fill="#b0b0b0" fill-opacity="0.6" stroke="#b0b0b0" stroke-opacity="0.6" stroke-width="1.20" stroke-linejoin="round"/>
</g></g>
<path d="M355.00,472.00C353.50,469.00 353.28,464.83 353.00,462.00C352.72,459.17 352.73,458.27 353.30,455.00C353.87,451.73 355.00,446.25 356.40,442.40C357.80,438.55 359.60,435.05 361.70,431.90C363.80,428.75 366.03,426.30 369.00,423.50C371.97,420.70 376.00,417.37 379.50,415.10C383.00,412.83 386.50,411.65 390.00,409.90C393.50,408.15 397.00,406.10 400.50,404.60C404.00,403.10 407.50,401.87 411.00,400.90C414.50,399.93 418.00,399.40 421.50,398.80C425.00,398.20 428.75,397.67 432.00,397.30C435.25,396.93 438.33,396.65 441.00,396.60C443.67,396.55 445.70,396.53 448.00,397.00C450.30,397.47 452.78,398.28 454.80,399.40C456.82,400.52 457.98,402.28 460.10,403.70C462.22,405.12 465.02,406.30 467.50,407.90C469.98,409.50 472.70,411.35 475.00,413.30C477.30,415.25 479.18,417.13 481.30,419.60C483.42,422.07 485.57,425.08 487.70,428.10C489.83,431.12 492.15,434.50 494.10,437.70C496.05,440.90 497.82,444.28 499.40,447.30C500.98,450.32 502.53,452.80 503.60,455.80C504.67,458.80 506.07,462.60 505.80,465.30C505.53,468.00 504.63,469.88 502.00,472.00C499.37,474.12 495.33,476.00 490.00,478.00C484.67,480.00 476.67,481.67 470.00,484.00C463.33,486.33 456.67,489.33 450.00,492.00C443.33,494.67 435.67,498.00 430.00,500.00C424.33,502.00 420.00,503.50 416.00,504.00C412.00,504.50 408.67,504.00 406.00,503.00C403.33,502.00 401.17,500.17 400.00,498.00C398.83,495.83 399.00,492.33 399.00,490.00C399.00,487.67 402.17,484.50 400.00,484.00C397.83,483.50 390.33,486.83 386.00,487.00C381.67,487.17 378.00,486.17 374.00,485.00C370.00,483.83 365.17,482.17 362.00,480.00C358.83,477.83 356.50,475.00 355.00,472.00Z" fill="none" stroke="#aaaaaa" stroke-width="0.7"/>
<radialGradient id="sp2_443_437" cx="0.55" cy="0.36" r="0.7"><stop offset="0" stop-color="#e0c050"/><stop offset="1" stop-color="#9a7818"/></radialGradient>
<circle cx="443.5" cy="437.2" r="3.4" fill="url(#sp2_443_437)"/>
<clipPath id="bc3"><path d="M190.20,697.10C189.95,694.87 190.18,692.48 190.70,689.90C191.22,687.32 192.18,684.37 193.30,681.60C194.42,678.83 195.87,676.05 197.40,673.30C198.93,670.55 200.62,667.85 202.50,665.10C204.38,662.35 206.45,659.38 208.70,656.80C210.95,654.22 213.42,651.67 216.00,649.60C218.58,647.53 221.97,645.95 224.20,644.40C226.43,642.85 226.98,641.75 229.40,640.30C231.82,638.85 234.43,636.38 238.70,635.70C242.97,635.02 250.57,635.95 255.00,636.20C259.43,636.45 261.87,636.52 265.30,637.20C268.73,637.88 272.15,638.92 275.60,640.30C279.05,641.68 282.55,643.60 286.00,645.50C289.45,647.40 292.87,649.47 296.30,651.70C299.73,653.93 303.50,656.32 306.60,658.90C309.70,661.48 312.50,664.28 314.90,667.20C317.30,670.12 319.28,673.32 321.00,676.40C322.72,679.48 324.33,682.77 325.20,685.70C326.07,688.63 326.20,691.25 326.20,694.00C326.20,696.75 326.07,699.62 325.20,702.20C324.33,704.78 322.72,707.60 321.00,709.50C319.28,711.40 317.65,712.57 314.90,713.60C312.15,714.63 307.95,715.35 304.50,715.70C301.05,716.05 297.28,715.88 294.20,715.70C291.12,715.52 287.55,713.75 286.00,714.60C284.45,715.45 285.42,718.73 284.90,720.80C284.38,722.87 284.10,725.37 282.90,727.00C281.70,728.63 279.77,729.82 277.70,730.60C275.63,731.38 272.90,731.95 270.50,731.70C268.10,731.45 265.72,730.38 263.30,729.10C260.88,727.82 258.73,725.90 256.00,724.00C253.27,722.10 250.13,719.43 246.90,717.70C243.67,715.97 240.03,714.80 236.60,713.60C233.17,712.40 229.73,711.37 226.30,710.50C222.87,709.63 219.45,708.83 216.00,708.40C212.55,707.97 208.70,708.15 205.60,707.90C202.50,707.65 199.63,707.67 197.40,706.90C195.17,706.13 193.40,704.93 192.20,703.30C191.00,701.67 190.45,699.33 190.20,697.10Z"/></clipPath>
<path d="M190.20,697.10C189.95,694.87 190.18,692.48 190.70,689.90C191.22,687.32 192.18,684.37 193.30,681.60C194.42,678.83 195.87,676.05 197.40,673.30C198.93,670.55 200.62,667.85 202.50,665.10C204.38,662.35 206.45,659.38 208.70,656.80C210.95,654.22 213.42,651.67 216.00,649.60C218.58,647.53 221.97,645.95 224.20,644.40C226.43,642.85 226.98,641.75 229.40,640.30C231.82,638.85 234.43,636.38 238.70,635.70C242.97,635.02 250.57,635.95 255.00,636.20C259.43,636.45 261.87,636.52 265.30,637.20C268.73,637.88 272.15,638.92 275.60,640.30C279.05,641.68 282.55,643.60 286.00,645.50C289.45,647.40 292.87,649.47 296.30,651.70C299.73,653.93 303.50,656.32 306.60,658.90C309.70,661.48 312.50,664.28 314.90,667.20C317.30,670.12 319.28,673.32 321.00,676.40C322.72,679.48 324.33,682.77 325.20,685.70C326.07,688.63 326.20,691.25 326.20,694.00C326.20,696.75 326.07,699.62 325.20,702.20C324.33,704.78 322.72,707.60 321.00,709.50C319.28,711.40 317.65,712.57 314.90,713.60C312.15,714.63 307.95,715.35 304.50,715.70C301.05,716.05 297.28,715.88 294.20,715.70C291.12,715.52 287.55,713.75 286.00,714.60C284.45,715.45 285.42,718.73 284.90,720.80C284.38,722.87 284.10,725.37 282.90,727.00C281.70,728.63 279.77,729.82 277.70,730.60C275.63,731.38 272.90,731.95 270.50,731.70C268.10,731.45 265.72,730.38 263.30,729.10C260.88,727.82 258.73,725.90 256.00,724.00C253.27,722.10 250.13,719.43 246.90,717.70C243.67,715.97 240.03,714.80 236.60,713.60C233.17,712.40 229.73,711.37 226.30,710.50C222.87,709.63 219.45,708.83 216.00,708.40C212.55,707.97 208.70,708.15 205.60,707.90C202.50,707.65 199.63,707.67 197.40,706.90C195.17,706.13 193.40,704.93 192.20,703.30C191.00,701.67 190.45,699.33 190.20,697.10Z" fill="#e0e0e0"/>
<linearGradient id="vg3" gradientUnits="userSpaceOnUse" x1="0" y1="635.7" x2="0" y2="731.7"><stop offset="0" stop-color="#000" stop-opacity="0"/><stop offset="0.55" stop-color="#000" stop-opacity="0"/><stop offset="1" stop-color="#000" stop-opacity="0.07"/></linearGradient>
<g clip-path="url(#bc3)">
<path d="M190.20,697.10C189.95,694.87 190.18,692.48 190.70,689.90C191.22,687.32 192.18,684.37 193.30,681.60C194.42,678.83 195.87,676.05 197.40,673.30C198.93,670.55 200.62,667.85 202.50,665.10C204.38,662.35 206.45,659.38 208.70,656.80C210.95,654.22 213.42,651.67 216.00,649.60C218.58,647.53 221.97,645.95 224.20,644.40C226.43,642.85 226.98,641.75 229.40,640.30C231.82,638.85 234.43,636.38 238.70,635.70C242.97,635.02 250.57,635.95 255.00,636.20C259.43,636.45 261.87,636.52 265.30,637.20C268.73,637.88 272.15,638.92 275.60,640.30C279.05,641.68 282.55,643.60 286.00,645.50C289.45,647.40 292.87,649.47 296.30,651.70C299.73,653.93 303.50,656.32 306.60,658.90C309.70,661.48 312.50,664.28 314.90,667.20C317.30,670.12 319.28,673.32 321.00,676.40C322.72,679.48 324.33,682.77 325.20,685.70C326.07,688.63 326.20,691.25 326.20,694.00C326.20,696.75 326.07,699.62 325.20,702.20C324.33,704.78 322.72,707.60 321.00,709.50C319.28,711.40 317.65,712.57 314.90,713.60C312.15,714.63 307.95,715.35 304.50,715.70C301.05,716.05 297.28,715.88 294.20,715.70C291.12,715.52 287.55,713.75 286.00,714.60C284.45,715.45 285.42,718.73 284.90,720.80C284.38,722.87 284.10,725.37 282.90,727.00C281.70,728.63 279.77,729.82 277.70,730.60C275.63,731.38 272.90,731.95 270.50,731.70C268.10,731.45 265.72,730.38 263.30,729.10C260.88,727.82 258.73,725.90 256.00,724.00C253.27,722.10 250.13,719.43 246.90,717.70C243.67,715.97 240.03,714.80 236.60,713.60C233.17,712.40 229.73,711.37 226.30,710.50C222.87,709.63 219.45,708.83 216.00,708.40C212.55,707.97 208.70,708.15 205.60,707.90C202.50,707.65 199.63,707.67 197.40,706.90C195.17,706.13 193.40,704.93 192.20,703.30C191.00,701.67 190.45,699.33 190.20,697.10Z" fill="url(#vg3)"/>
<path d="M190.20,697.10C189.95,694.87 190.18,692.48 190.70,689.90C191.22,687.32 192.18,684.37 193.30,681.60C194.42,678.83 195.87,676.05 197.40,673.30C198.93,670.55 200.62,667.85 202.50,665.10C204.38,662.35 206.45,659.38 208.70,656.80C210.95,654.22 213.42,651.67 216.00,649.60C218.58,647.53 221.97,645.95 224.20,644.40C226.43,642.85 226.98,641.75 229.40,640.30C231.82,638.85 234.43,636.38 238.70,635.70C242.97,635.02 250.57,635.95 255.00,636.20C259.43,636.45 261.87,636.52 265.30,637.20C268.73,637.88 272.15,638.92 275.60,640.30C279.05,641.68 282.55,643.60 286.00,645.50C289.45,647.40 292.87,649.47 296.30,651.70C299.73,653.93 303.50,656.32 306.60,658.90C309.70,661.48 312.50,664.28 314.90,667.20C317.30,670.12 319.28,673.32 321.00,676.40C322.72,679.48 324.33,682.77 325.20,685.70C326.07,688.63 326.20,691.25 326.20,694.00C326.20,696.75 326.07,699.62 325.20,702.20C324.33,704.78 322.72,707.60 321.00,709.50C319.28,711.40 317.65,712.57 314.90,713.60C312.15,714.63 307.95,715.35 304.50,715.70C301.05,716.05 297.28,715.88 294.20,715.70C291.12,715.52 287.55,713.75 286.00,714.60C284.45,715.45 285.42,718.73 284.90,720.80C284.38,722.87 284.10,725.37 282.90,727.00C281.70,728.63 279.77,729.82 277.70,730.60C275.63,731.38 272.90,731.95 270.50,731.70C268.10,731.45 265.72,730.38 263.30,729.10C260.88,727.82 258.73,725.90 256.00,724.00C253.27,722.10 250.13,719.43 246.90,717.70C243.67,715.97 240.03,714.80 236.60,713.60C233.17,712.40 229.73,711.37 226.30,710.50C222.87,709.63 219.45,708.83 216.00,708.40C212.55,707.97 208.70,708.15 205.60,707.90C202.50,707.65 199.63,707.67 197.40,706.90C195.17,706.13 193.40,704.93 192.20,703.30C191.00,701.67 190.45,699.33 190.20,697.10Z" fill="none" stroke="#f0f0f0" stroke-width="10.46" stroke-opacity="0.5" filter="url(#blur2)"/>
<path d="M190.20,697.10C189.95,694.87 190.18,692.48 190.70,689.90C191.22,687.32 192.18,684.37 193.30,681.60C194.42,678.83 195.87,676.05 197.40,673.30C198.93,670.55 200.62,667.85 202.50,665.10C204.38,662.35 206.45,659.38 208.70,656.80C210.95,654.22 213.42,651.67 216.00,649.60C218.58,647.53 221.97,645.95 224.20,644.40C226.43,642.85 226.98,641.75 229.40,640.30C231.82,638.85 234.43,636.38 238.70,635.70C242.97,635.02 250.57,635.95 255.00,636.20C259.43,636.45 261.87,636.52 265.30,637.20C268.73,637.88 272.15,638.92 275.60,640.30C279.05,641.68 282.55,643.60 286.00,645.50C289.45,647.40 292.87,649.47 296.30,651.70C299.73,653.93 303.50,656.32 306.60,658.90C309.70,661.48 312.50,664.28 314.90,667.20C317.30,670.12 319.28,673.32 321.00,676.40C322.72,679.48 324.33,682.77 325.20,685.70C326.07,688.63 326.20,691.25 326.20,694.00C326.20,696.75 326.07,699.62 325.20,702.20C324.33,704.78 322.72,707.60 321.00,709.50C319.28,711.40 317.65,712.57 314.90,713.60C312.15,714.63 307.95,715.35 304.50,715.70C301.05,716.05 297.28,715.88 294.20,715.70C291.12,715.52 287.55,713.75 286.00,714.60C284.45,715.45 285.42,718.73 284.90,720.80C284.38,722.87 284.10,725.37 282.90,727.00C281.70,728.63 279.77,729.82 277.70,730.60C275.63,731.38 272.90,731.95 270.50,731.70C268.10,731.45 265.72,730.38 263.30,729.10C260.88,727.82 258.73,725.90 256.00,724.00C253.27,722.10 250.13,719.43 246.90,717.70C243.67,715.97 240.03,714.80 236.60,713.60C233.17,712.40 229.73,711.37 226.30,710.50C222.87,709.63 219.45,708.83 216.00,708.40C212.55,707.97 208.70,708.15 205.60,707.90C202.50,707.65 199.63,707.67 197.40,706.90C195.17,706.13 193.40,704.93 192.20,703.30C191.00,701.67 190.45,699.33 190.20,697.10Z" fill="none" stroke="#a0a0a0" stroke-width="3.05" stroke-opacity="0.5" filter="url(#soft)"/>
<g filter="url(#soft)">
<path d="M214.61,700.86C218.24,701.63 229.14,703.46 236.41,705.45C243.67,707.44 251.66,709.73 258.20,712.79C264.74,715.85 272.73,721.97 275.64,723.81" stroke="#f3f3f3" stroke-width="3.92" stroke-opacity="0.85" fill="none" stroke-linecap="round"/>
<path d="M279.99,675.16C282.90,676.24 291.91,678.99 297.43,681.59C302.95,684.19 310.51,689.24 313.12,690.77" stroke="#efefef" stroke-width="6.97" stroke-opacity="0.7" fill="none" stroke-linecap="round"/>
<path d="M236.41,668.74C238.73,669.66 248.03,673.33 250.35,674.25" stroke="#eeeeee" stroke-width="5.23" stroke-opacity="0.6" fill="none" stroke-linecap="round"/>
<path d="M197.17,694.44C197.61,692.91 198.48,688.32 199.79,685.26C201.10,682.20 203.28,678.53 205.02,676.08C206.76,673.63 209.38,671.49 210.25,670.58" stroke="#f2f2f2" stroke-width="6.97" stroke-opacity="0.75" fill="none" stroke-linecap="round"/>
<path d="M293.07,710.96C295.98,710.96 307.60,710.96 310.51,710.96" stroke="#f0f0f0" stroke-width="3.49" stroke-opacity="0.6" fill="none" stroke-linecap="round"/>
<path d="M245.12,643.04C248.76,643.35 263.29,644.57 266.92,644.88" stroke="#ececec" stroke-width="5.23" stroke-opacity="0.5" fill="none" stroke-linecap="round"/>
<path d="M249.48,694.44C252.39,695.05 261.54,696.89 266.92,698.11C272.29,699.33 279.27,701.17 281.74,701.78" stroke="#efefef" stroke-width="4.36" stroke-opacity="0.6" fill="none" stroke-linecap="round"/>
<path d="M220.71,652.22C222.60,651.30 228.56,648.24 232.05,646.71C235.53,645.18 240.04,643.65 241.64,643.04" stroke="#eeeeee" stroke-width="4.36" stroke-opacity="0.6" fill="none" stroke-linecap="round"/>
<path d="M209.38,658.64C210.11,659.41 212.43,661.70 213.74,663.23C215.05,664.76 216.64,667.06 217.23,667.82" stroke="#a4a4a4" stroke-width="3.49" stroke-opacity="0.55" fill="none" stroke-linecap="round"/>
<path d="M217.23,660.48C216.06,661.86 212.29,665.83 210.25,668.74C208.22,671.65 206.18,674.86 205.02,677.92C203.86,680.98 203.57,685.57 203.28,687.10" stroke="#a8a8a8" stroke-width="1.05" stroke-opacity="0.6" fill="none" stroke-linecap="round"/>
<path d="M218.10,661.40C219.70,661.17 224.64,660.37 227.69,660.02C230.74,659.67 233.21,659.29 236.41,659.29C239.60,659.29 244.11,659.52 246.87,660.02C249.63,660.53 251.95,661.93 252.97,662.32" stroke="#8c8c8c" stroke-width="0.87" stroke-opacity="0.7" fill="none" stroke-linecap="round"/>
<path d="M253.41,649.01C254.20,650.16 256.67,653.37 258.20,655.89C259.73,658.42 261.18,660.71 262.56,664.15C263.94,667.59 265.83,674.48 266.48,676.54" stroke="#959595" stroke-width="1.05" stroke-opacity="0.7" fill="none" stroke-linecap="round"/>
<path d="M273.02,651.76C275.64,652.22 283.92,652.68 288.71,654.51C293.51,656.35 297.87,660.94 301.79,662.77C305.71,664.61 310.51,665.07 312.25,665.53" stroke="#9c9c9c" stroke-width="1.13" stroke-opacity="0.7" fill="none" stroke-linecap="round"/>
<path d="M223.33,671.03C225.22,672.79 230.74,678.15 234.66,681.59C238.58,685.03 244.83,690.00 246.87,691.68" stroke="#c0c0c0" stroke-width="6.10" stroke-opacity="0.45" fill="none" stroke-linecap="round"/>
<path d="M242.94,699.94C245.49,700.86 252.75,703.46 258.20,705.45C263.65,707.44 272.73,710.81 275.64,711.88" stroke="#a8a8a8" stroke-width="2.62" stroke-opacity="0.5" fill="none" stroke-linecap="round"/>
<path d="M210.25,698.11C213.16,698.72 221.88,700.25 227.69,701.78C233.50,703.31 239.02,704.84 245.12,707.29C251.23,709.73 261.11,714.94 264.30,716.46" stroke="#b4b4b4" stroke-width="1.92" stroke-opacity="0.45" fill="none" stroke-linecap="round"/>
<path d="M296.56,707.29C298.45,707.07 304.99,705.94 307.89,706.00C310.80,706.06 312.98,707.38 313.99,707.65" stroke="#a0a0a0" stroke-width="0.87" stroke-opacity="0.6" fill="none" stroke-linecap="round"/>
<path d="M276.51,644.88C279.99,646.10 291.04,648.70 297.43,652.22C303.82,655.74 310.51,661.09 314.87,665.99C319.23,670.88 322.13,678.99 323.58,681.59" stroke="#c4c4c4" stroke-width="2.62" stroke-opacity="0.6" fill="none" stroke-linecap="round"/>
<path d="M194.56,701.78C196.01,702.47 199.21,705.15 203.28,705.91C207.35,706.68 216.35,706.29 218.97,706.37" stroke="#b4b4b4" stroke-width="2.62" stroke-opacity="0.6" fill="none" stroke-linecap="round"/>
<path d="M212.87,696.27C215.34,696.89 222.60,698.87 227.69,699.94C232.77,701.02 240.76,702.24 243.38,702.70" stroke="#b0b0b0" stroke-width="1.74" stroke-opacity="0.5" fill="none" stroke-linecap="round"/>
<path d="M283.48,713.25L273.02,708.20L258.20,702.70L243.38,698.11L257.33,704.99L271.28,710.96L279.99,714.17Z" fill="#a4a4a4" fill-opacity="0.6" stroke="#a4a4a4" stroke-opacity="0.6" stroke-width="1.05" stroke-linejoin="round"/>
<path d="M257.33,681.59L266.92,683.88L276.51,686.64L287.84,688.93L276.51,689.85L266.05,687.10L257.33,682.97Z" fill="#a0a0a0" fill-opacity="0.65" stroke="#a0a0a0" stroke-opacity="0.65" stroke-width="1.05" stroke-linejoin="round"/>
</g></g>
<path d="M190.20,697.10C189.95,694.87 190.18,692.48 190.70,689.90C191.22,687.32 192.18,684.37 193.30,681.60C194.42,678.83 195.87,676.05 197.40,673.30C198.93,670.55 200.62,667.85 202.50,665.10C204.38,662.35 206.45,659.38 208.70,656.80C210.95,654.22 213.42,651.67 216.00,649.60C218.58,647.53 221.97,645.95 224.20,644.40C226.43,642.85 226.98,641.75 229.40,640.30C231.82,638.85 234.43,636.38 238.70,635.70C242.97,635.02 250.57,635.95 255.00,636.20C259.43,636.45 261.87,636.52 265.30,637.20C268.73,637.88 272.15,638.92 275.60,640.30C279.05,641.68 282.55,643.60 286.00,645.50C289.45,647.40 292.87,649.47 296.30,651.70C299.73,653.93 303.50,656.32 306.60,658.90C309.70,661.48 312.50,664.28 314.90,667.20C317.30,670.12 319.28,673.32 321.00,676.40C322.72,679.48 324.33,682.77 325.20,685.70C326.07,688.63 326.20,691.25 326.20,694.00C326.20,696.75 326.07,699.62 325.20,702.20C324.33,704.78 322.72,707.60 321.00,709.50C319.28,711.40 317.65,712.57 314.90,713.60C312.15,714.63 307.95,715.35 304.50,715.70C301.05,716.05 297.28,715.88 294.20,715.70C291.12,715.52 287.55,713.75 286.00,714.60C284.45,715.45 285.42,718.73 284.90,720.80C284.38,722.87 284.10,725.37 282.90,727.00C281.70,728.63 279.77,729.82 277.70,730.60C275.63,731.38 272.90,731.95 270.50,731.70C268.10,731.45 265.72,730.38 263.30,729.10C260.88,727.82 258.73,725.90 256.00,724.00C253.27,722.10 250.13,719.43 246.90,717.70C243.67,715.97 240.03,714.80 236.60,713.60C233.17,712.40 229.73,711.37 226.30,710.50C222.87,709.63 219.45,708.83 216.00,708.40C212.55,707.97 208.70,708.15 205.60,707.90C202.50,707.65 199.63,707.67 197.40,706.90C195.17,706.13 193.40,704.93 192.20,703.30C191.00,701.67 190.45,699.33 190.20,697.10Z" fill="none" stroke="#aaaaaa" stroke-width="0.7"/>
<radialGradient id="sp3_227_657" cx="0.55" cy="0.36" r="0.7"><stop offset="0" stop-color="#e09a9c"/><stop offset="1" stop-color="#96585c"/></radialGradient>
<circle cx="227.3" cy="657.0" r="6.4" fill="url(#sp3_227_657)"/>
<radialGradient id="sp3_206_683" cx="0.55" cy="0.36" r="0.7"><stop offset="0" stop-color="#d4907e"/><stop offset="1" stop-color="#9a6050"/></radialGradient>
<circle cx="206.9" cy="683.1" r="4.6" fill="url(#sp3_206_683)"/>
<radialGradient id="sp3_207_673" cx="0.55" cy="0.36" r="0.7"><stop offset="0" stop-color="#6e8c36"/><stop offset="1" stop-color="#3c5418"/></radialGradient>
<circle cx="207.5" cy="673.9" r="6.4" fill="url(#sp3_207_673)"/>
<radialGradient id="sp3_208_691" cx="0.55" cy="0.36" r="0.7"><stop offset="0" stop-color="#5e94be"/><stop offset="1" stop-color="#2e5878"/></radialGradient>
<circle cx="208.5" cy="691.1" r="4.6" fill="url(#sp3_208_691)"/>
<radialGradient id="sp3_237_675" cx="0.55" cy="0.36" r="0.7"><stop offset="0" stop-color="#e25c84"/><stop offset="1" stop-color="#9a3050"/></radialGradient>
<circle cx="237.8" cy="675.9" r="5.0" fill="url(#sp3_237_675)"/>
<radialGradient id="sp3_258_689" cx="0.55" cy="0.36" r="0.7"><stop offset="0" stop-color="#d0b050"/><stop offset="1" stop-color="#8a6c22"/></radialGradient>
<circle cx="258.9" cy="689.7" r="5.0" fill="url(#sp3_258_689)"/>
<radialGradient id="sp3_276_694" cx="0.55" cy="0.36" r="0.7"><stop offset="0" stop-color="#a87a7a"/><stop offset="1" stop-color="#6a4444"/></radialGradient>
<circle cx="276.2" cy="694.2" r="4.6" fill="url(#sp3_276_694)"/>
<radialGradient id="sp3_272_710" cx="0.55" cy="0.36" r="0.7"><stop offset="0" stop-color="#74aa96"/><stop offset="1" stop-color="#3e6c5c"/></radialGradient>
<circle cx="272.8" cy="710.3" r="4.6" fill="url(#sp3_272_710)"/>
<clipPath id="bc4"><path d="M545.30,695.80C545.57,692.97 546.33,690.32 547.40,687.30C548.47,684.28 549.92,680.90 551.70,677.70C553.48,674.50 555.62,671.12 558.10,668.10C560.58,665.08 563.42,662.25 566.60,659.60C569.78,656.95 573.67,654.32 577.20,652.20C580.73,650.08 584.27,648.40 587.80,646.90C591.33,645.40 594.85,644.18 598.40,643.20C601.95,642.22 605.40,641.63 609.10,641.00C612.80,640.37 616.90,639.57 620.60,639.40C624.30,639.23 628.28,639.28 631.30,640.00C634.32,640.72 636.40,642.37 638.70,643.70C641.00,645.03 642.80,646.58 645.10,648.00C647.40,649.42 650.02,650.27 652.50,652.20C654.98,654.13 657.70,656.95 660.00,659.60C662.30,662.25 664.37,665.08 666.30,668.10C668.23,671.12 670.00,674.50 671.60,677.70C673.20,680.90 674.83,684.28 675.90,687.30C676.97,690.32 677.82,692.97 678.00,695.80C678.18,698.63 677.88,702.00 677.00,704.30C676.12,706.60 674.65,708.37 672.70,709.60C670.75,710.83 668.67,711.00 665.30,711.70C661.93,712.40 656.40,713.08 652.50,713.80C648.60,714.52 645.43,715.12 641.90,716.00C638.37,716.88 634.85,717.87 631.30,719.10C627.75,720.33 623.77,721.62 620.60,723.40C617.43,725.18 615.47,728.03 612.30,729.80C609.13,731.57 604.80,733.30 601.60,734.00C598.40,734.70 595.57,734.70 593.10,734.00C590.63,733.30 588.22,731.57 586.80,729.80C585.38,728.03 584.78,725.53 584.60,723.40C584.42,721.27 586.75,717.88 585.70,717.00C584.65,716.12 581.32,717.92 578.30,718.10C575.28,718.28 571.15,718.45 567.60,718.10C564.05,717.75 560.00,717.25 557.00,716.00C554.00,714.75 551.47,712.55 549.60,710.60C547.73,708.65 546.52,706.77 545.80,704.30C545.08,701.83 545.03,698.63 545.30,695.80Z"/></clipPath>
<path d="M545.30,695.80C545.57,692.97 546.33,690.32 547.40,687.30C548.47,684.28 549.92,680.90 551.70,677.70C553.48,674.50 555.62,671.12 558.10,668.10C560.58,665.08 563.42,662.25 566.60,659.60C569.78,656.95 573.67,654.32 577.20,652.20C580.73,650.08 584.27,648.40 587.80,646.90C591.33,645.40 594.85,644.18 598.40,643.20C601.95,642.22 605.40,641.63 609.10,641.00C612.80,640.37 616.90,639.57 620.60,639.40C624.30,639.23 628.28,639.28 631.30,640.00C634.32,640.72 636.40,642.37 638.70,643.70C641.00,645.03 642.80,646.58 645.10,648.00C647.40,649.42 650.02,650.27 652.50,652.20C654.98,654.13 657.70,656.95 660.00,659.60C662.30,662.25 664.37,665.08 666.30,668.10C668.23,671.12 670.00,674.50 671.60,677.70C673.20,680.90 674.83,684.28 675.90,687.30C676.97,690.32 677.82,692.97 678.00,695.80C678.18,698.63 677.88,702.00 677.00,704.30C676.12,706.60 674.65,708.37 672.70,709.60C670.75,710.83 668.67,711.00 665.30,711.70C661.93,712.40 656.40,713.08 652.50,713.80C648.60,714.52 645.43,715.12 641.90,716.00C638.37,716.88 634.85,717.87 631.30,719.10C627.75,720.33 623.77,721.62 620.60,723.40C617.43,725.18 615.47,728.03 612.30,729.80C609.13,731.57 604.80,733.30 601.60,734.00C598.40,734.70 595.57,734.70 593.10,734.00C590.63,733.30 588.22,731.57 586.80,729.80C585.38,728.03 584.78,725.53 584.60,723.40C584.42,721.27 586.75,717.88 585.70,717.00C584.65,716.12 581.32,717.92 578.30,718.10C575.28,718.28 571.15,718.45 567.60,718.10C564.05,717.75 560.00,717.25 557.00,716.00C554.00,714.75 551.47,712.55 549.60,710.60C547.73,708.65 546.52,706.77 545.80,704.30C545.08,701.83 545.03,698.63 545.30,695.80Z" fill="#e0e0e0"/>
<linearGradient id="vg4" gradientUnits="userSpaceOnUse" x1="0" y1="639.4" x2="0" y2="734.0"><stop offset="0" stop-color="#000" stop-opacity="0"/><stop offset="0.55" stop-color="#000" stop-opacity="0"/><stop offset="1" stop-color="#000" stop-opacity="0.07"/></linearGradient>
<g clip-path="url(#bc4)">
<path d="M545.30,695.80C545.57,692.97 546.33,690.32 547.40,687.30C548.47,684.28 549.92,680.90 551.70,677.70C553.48,674.50 555.62,671.12 558.10,668.10C560.58,665.08 563.42,662.25 566.60,659.60C569.78,656.95 573.67,654.32 577.20,652.20C580.73,650.08 584.27,648.40 587.80,646.90C591.33,645.40 594.85,644.18 598.40,643.20C601.95,642.22 605.40,641.63 609.10,641.00C612.80,640.37 616.90,639.57 620.60,639.40C624.30,639.23 628.28,639.28 631.30,640.00C634.32,640.72 636.40,642.37 638.70,643.70C641.00,645.03 642.80,646.58 645.10,648.00C647.40,649.42 650.02,650.27 652.50,652.20C654.98,654.13 657.70,656.95 660.00,659.60C662.30,662.25 664.37,665.08 666.30,668.10C668.23,671.12 670.00,674.50 671.60,677.70C673.20,680.90 674.83,684.28 675.90,687.30C676.97,690.32 677.82,692.97 678.00,695.80C678.18,698.63 677.88,702.00 677.00,704.30C676.12,706.60 674.65,708.37 672.70,709.60C670.75,710.83 668.67,711.00 665.30,711.70C661.93,712.40 656.40,713.08 652.50,713.80C648.60,714.52 645.43,715.12 641.90,716.00C638.37,716.88 634.85,717.87 631.30,719.10C627.75,720.33 623.77,721.62 620.60,723.40C617.43,725.18 615.47,728.03 612.30,729.80C609.13,731.57 604.80,733.30 601.60,734.00C598.40,734.70 595.57,734.70 593.10,734.00C590.63,733.30 588.22,731.57 586.80,729.80C585.38,728.03 584.78,725.53 584.60,723.40C584.42,721.27 586.75,717.88 585.70,717.00C584.65,716.12 581.32,717.92 578.30,718.10C575.28,718.28 571.15,718.45 567.60,718.10C564.05,717.75 560.00,717.25 557.00,716.00C554.00,714.75 551.47,712.55 549.60,710.60C547.73,708.65 546.52,706.77 545.80,704.30C545.08,701.83 545.03,698.63 545.30,695.80Z" fill="url(#vg4)"/>
<path d="M545.30,695.80C545.57,692.97 546.33,690.32 547.40,687.30C548.47,684.28 549.92,680.90 551.70,677.70C553.48,674.50 555.62,671.12 558.10,668.10C560.58,665.08 563.42,662.25 566.60,659.60C569.78,656.95 573.67,654.32 577.20,652.20C580.73,650.08 584.27,648.40 587.80,646.90C591.33,645.40 594.85,644.18 598.40,643.20C601.95,642.22 605.40,641.63 609.10,641.00C612.80,640.37 616.90,639.57 620.60,639.40C624.30,639.23 628.28,639.28 631.30,640.00C634.32,640.72 636.40,642.37 638.70,643.70C641.00,645.03 642.80,646.58 645.10,648.00C647.40,649.42 650.02,650.27 652.50,652.20C654.98,654.13 657.70,656.95 660.00,659.60C662.30,662.25 664.37,665.08 666.30,668.10C668.23,671.12 670.00,674.50 671.60,677.70C673.20,680.90 674.83,684.28 675.90,687.30C676.97,690.32 677.82,692.97 678.00,695.80C678.18,698.63 677.88,702.00 677.00,704.30C676.12,706.60 674.65,708.37 672.70,709.60C670.75,710.83 668.67,711.00 665.30,711.70C661.93,712.40 656.40,713.08 652.50,713.80C648.60,714.52 645.43,715.12 641.90,716.00C638.37,716.88 634.85,717.87 631.30,719.10C627.75,720.33 623.77,721.62 620.60,723.40C617.43,725.18 615.47,728.03 612.30,729.80C609.13,731.57 604.80,733.30 601.60,734.00C598.40,734.70 595.57,734.70 593.10,734.00C590.63,733.30 588.22,731.57 586.80,729.80C585.38,728.03 584.78,725.53 584.60,723.40C584.42,721.27 586.75,717.88 585.70,717.00C584.65,716.12 581.32,717.92 578.30,718.10C575.28,718.28 571.15,718.45 567.60,718.10C564.05,717.75 560.00,717.25 557.00,716.00C554.00,714.75 551.47,712.55 549.60,710.60C547.73,708.65 546.52,706.77 545.80,704.30C545.08,701.83 545.03,698.63 545.30,695.80Z" fill="none" stroke="#f0f0f0" stroke-width="10.42" stroke-opacity="0.5" filter="url(#blur2)"/>
<path d="M545.30,695.80C545.57,692.97 546.33,690.32 547.40,687.30C548.47,684.28 549.92,680.90 551.70,677.70C553.48,674.50 555.62,671.12 558.10,668.10C560.58,665.08 563.42,662.25 566.60,659.60C569.78,656.95 573.67,654.32 577.20,652.20C580.73,650.08 584.27,648.40 587.80,646.90C591.33,645.40 594.85,644.18 598.40,643.20C601.95,642.22 605.40,641.63 609.10,641.00C612.80,640.37 616.90,639.57 620.60,639.40C624.30,639.23 628.28,639.28 631.30,640.00C634.32,640.72 636.40,642.37 638.70,643.70C641.00,645.03 642.80,646.58 645.10,648.00C647.40,649.42 650.02,650.27 652.50,652.20C654.98,654.13 657.70,656.95 660.00,659.60C662.30,662.25 664.37,665.08 666.30,668.10C668.23,671.12 670.00,674.50 671.60,677.70C673.20,680.90 674.83,684.28 675.90,687.30C676.97,690.32 677.82,692.97 678.00,695.80C678.18,698.63 677.88,702.00 677.00,704.30C676.12,706.60 674.65,708.37 672.70,709.60C670.75,710.83 668.67,711.00 665.30,711.70C661.93,712.40 656.40,713.08 652.50,713.80C648.60,714.52 645.43,715.12 641.90,716.00C638.37,716.88 634.85,717.87 631.30,719.10C627.75,720.33 623.77,721.62 620.60,723.40C617.43,725.18 615.47,728.03 612.30,729.80C609.13,731.57 604.80,733.30 601.60,734.00C598.40,734.70 595.57,734.70 593.10,734.00C590.63,733.30 588.22,731.57 586.80,729.80C585.38,728.03 584.78,725.53 584.60,723.40C584.42,721.27 586.75,717.88 585.70,717.00C584.65,716.12 581.32,717.92 578.30,718.10C575.28,718.28 571.15,718.45 567.60,718.10C564.05,717.75 560.00,717.25 557.00,716.00C554.00,714.75 551.47,712.55 549.60,710.60C547.73,708.65 546.52,706.77 545.80,704.30C545.08,701.83 545.03,698.63 545.30,695.80Z" fill="none" stroke="#a0a0a0" stroke-width="3.04" stroke-opacity="0.5" filter="url(#soft)"/>
<g filter="url(#soft)">
<path d="M555.72,688.20C557.60,686.73 562.81,681.74 567.01,679.39C571.21,677.04 578.59,674.99 580.91,674.10" stroke="#f0f0f0" stroke-width="5.21" stroke-opacity="0.8" fill="none" stroke-linecap="round"/>
<path d="M627.80,697.01C630.99,696.12 640.25,693.19 646.91,691.72C653.57,690.25 664.28,688.78 667.75,688.20" stroke="#f0f0f0" stroke-width="5.21" stroke-opacity="0.7" fill="none" stroke-linecap="round"/>
<path d="M596.54,725.19C600.59,724.02 612.46,720.64 620.86,718.15C629.25,715.65 638.80,712.71 646.91,710.22C655.01,707.72 665.73,704.35 669.49,703.17" stroke="#eeeeee" stroke-width="3.47" stroke-opacity="0.7" fill="none" stroke-linecap="round"/>
<path d="M573.09,652.08C576.71,651.20 588.00,648.12 594.80,646.80C601.60,645.48 610.72,644.60 613.91,644.16" stroke="#ebebeb" stroke-width="4.34" stroke-opacity="0.6" fill="none" stroke-linecap="round"/>
<path d="M597.41,668.82C598.13,671.17 601.03,680.56 601.75,682.91" stroke="#eeeeee" stroke-width="4.34" stroke-opacity="0.6" fill="none" stroke-linecap="round"/>
<path d="M586.12,701.41C588.14,700.82 594.51,699.21 598.28,697.89C602.04,696.57 606.96,694.22 608.70,693.48" stroke="#eeeeee" stroke-width="3.47" stroke-opacity="0.6" fill="none" stroke-linecap="round"/>
<path d="M567.01,669.70C569.04,668.38 575.12,663.97 579.17,661.77C583.22,659.57 589.30,657.37 591.33,656.49" stroke="#959595" stroke-width="1.22" stroke-opacity="0.7" fill="none" stroke-linecap="round"/>
<path d="M591.33,662.65C591.14,665.00 590.08,672.64 590.20,676.75C590.31,680.86 591.72,685.55 592.02,687.32" stroke="#acacac" stroke-width="2.61" stroke-opacity="0.6" fill="none" stroke-linecap="round"/>
<path d="M617.38,651.20C616.37,652.52 612.89,656.49 611.30,659.13C609.71,661.77 608.99,664.56 607.83,667.06C606.67,669.55 604.93,672.93 604.35,674.10" stroke="#8c8c8c" stroke-width="0.96" stroke-opacity="0.7" fill="none" stroke-linecap="round"/>
<path d="M621.29,664.42C623.10,664.20 628.45,663.43 632.15,663.09C635.84,662.76 640.69,662.32 643.44,662.39C646.19,662.46 647.78,663.34 648.65,663.53" stroke="#8c8c8c" stroke-width="0.96" stroke-opacity="0.7" fill="none" stroke-linecap="round"/>
<path d="M598.28,721.67C601.46,720.35 611.01,716.38 617.38,713.74C623.75,711.10 629.83,708.60 636.49,705.81C643.15,703.02 653.86,698.47 657.33,697.01" stroke="#b0b0b0" stroke-width="1.91" stroke-opacity="0.55" fill="none" stroke-linecap="round"/>
<path d="M549.64,704.05C551.67,705.52 556.88,710.81 561.80,712.86C566.72,714.92 576.27,715.80 579.17,716.38" stroke="#b4b4b4" stroke-width="3.47" stroke-opacity="0.5" fill="none" stroke-linecap="round"/>
<path d="M615.64,681.15C617.67,681.59 625.78,683.35 627.80,683.79" stroke="#c0c0c0" stroke-width="5.21" stroke-opacity="0.5" fill="none" stroke-linecap="round"/>
<path d="M586.12,716.38L593.07,709.34L601.75,702.29L610.43,695.24L614.78,692.60L610.43,697.89L601.75,705.81L593.07,712.86L588.72,717.26Z" fill="#a0a0a0" fill-opacity="0.7" stroke="#a0a0a0" stroke-opacity="0.7" stroke-width="1.04" stroke-linejoin="round"/>
<path d="M577.43,697.01L587.85,692.60L601.75,688.20L613.91,685.55L603.49,690.84L589.59,695.24Z" fill="#a8a8a8" fill-opacity="0.6" stroke="#a8a8a8" stroke-opacity="0.6" stroke-width="1.04" stroke-linejoin="round"/>
<path d="M646.91,662.65L653.86,668.82L660.80,677.63L664.28,684.67L657.33,678.51L650.38,670.58Z" fill="#b0b0b0" fill-opacity="0.6" stroke="#b0b0b0" stroke-opacity="0.6" stroke-width="1.04" stroke-linejoin="round"/>
</g></g>
<path d="M545.30,695.80C545.57,692.97 546.33,690.32 547.40,687.30C548.47,684.28 549.92,680.90 551.70,677.70C553.48,674.50 555.62,671.12 558.10,668.10C560.58,665.08 563.42,662.25 566.60,659.60C569.78,656.95 573.67,654.32 577.20,652.20C580.73,650.08 584.27,648.40 587.80,646.90C591.33,645.40 594.85,644.18 598.40,643.20C601.95,642.22 605.40,641.63 609.10,641.00C612.80,640.37 616.90,639.57 620.60,639.40C624.30,639.23 628.28,639.28 631.30,640.00C634.32,640.72 636.40,642.37 638.70,643.70C641.00,645.03 642.80,646.58 645.10,648.00C647.40,649.42 650.02,650.27 652.50,652.20C654.98,654.13 657.70,656.95 660.00,659.60C662.30,662.25 664.37,665.08 666.30,668.10C668.23,671.12 670.00,674.50 671.60,677.70C673.20,680.90 674.83,684.28 675.90,687.30C676.97,690.32 677.82,692.97 678.00,695.80C678.18,698.63 677.88,702.00 677.00,704.30C676.12,706.60 674.65,708.37 672.70,709.60C670.75,710.83 668.67,711.00 665.30,711.70C661.93,712.40 656.40,713.08 652.50,713.80C648.60,714.52 645.43,715.12 641.90,716.00C638.37,716.88 634.85,717.87 631.30,719.10C627.75,720.33 623.77,721.62 620.60,723.40C617.43,725.18 615.47,728.03 612.30,729.80C609.13,731.57 604.80,733.30 601.60,734.00C598.40,734.70 595.57,734.70 593.10,734.00C590.63,733.30 588.22,731.57 586.80,729.80C585.38,728.03 584.78,725.53 584.60,723.40C584.42,721.27 586.75,717.88 585.70,717.00C584.65,716.12 581.32,717.92 578.30,718.10C575.28,718.28 571.15,718.45 567.60,718.10C564.05,717.75 560.00,717.25 557.00,716.00C554.00,714.75 551.47,712.55 549.60,710.60C547.73,708.65 546.52,706.77 545.80,704.30C545.08,701.83 545.03,698.63 545.30,695.80Z" fill="none" stroke="#aaaaaa" stroke-width="0.7"/>
<radialGradient id="sp4_642_660" cx="0.55" cy="0.36" r="0.7"><stop offset="0" stop-color="#e8bec6"/><stop offset="1" stop-color="#ae8890"/></radialGradient>
<circle cx="642.4" cy="660.2" r="3.4" fill="url(#sp4_642_660)"/>
<radialGradient id="sp4_604_687" cx="0.55" cy="0.36" r="0.7"><stop offset="0" stop-color="#a88aa8"/><stop offset="1" stop-color="#6a4c68"/></radialGradient>
<circle cx="604.0" cy="687.8" r="3.2" fill="url(#sp4_604_687)"/>
<radialGradient id="sp4_593_697" cx="0.55" cy="0.36" r="0.7"><stop offset="0" stop-color="#d08c7a"/><stop offset="1" stop-color="#884e42"/></radialGradient>
<circle cx="593.9" cy="697.0" r="5.0" fill="url(#sp4_593_697)"/>
<line x1="80.30" y1="395.50" x2="80.30" y2="595.90" stroke="#303030" stroke-width="1.5"/>
<line x1="79.60" y1="595.40" x2="423.75" y2="595.40" stroke="#151515" stroke-width="1.5"/>
<line x1="435.20" y1="595.40" x2="778.70" y2="595.40" stroke="#151515" stroke-width="1.5"/>
<line x1="75.10" y1="404.30" x2="80.30" y2="404.30" stroke="#111" stroke-width="1.3"/>
<text x="39.18" y="410.50" font-family="Liberation Serif" font-size="18.5" fill="#555555" textLength="31.35" lengthAdjust="spacingAndGlyphs">0.66</text>
<line x1="75.10" y1="462.40" x2="80.30" y2="462.40" stroke="#111" stroke-width="1.3"/>
<text x="39.19" y="468.60" font-family="Liberation Serif" font-size="18.5" fill="#555555" textLength="31.08" lengthAdjust="spacingAndGlyphs">0.64</text>
<line x1="75.10" y1="520.40" x2="80.30" y2="520.40" stroke="#111" stroke-width="1.3"/>
<text x="39.17" y="526.60" font-family="Liberation Serif" font-size="18.5" fill="#555555" textLength="31.83" lengthAdjust="spacingAndGlyphs">0.62</text>
<line x1="75.10" y1="578.50" x2="80.30" y2="578.50" stroke="#111" stroke-width="1.3"/>
<text x="39.18" y="584.70" font-family="Liberation Serif" font-size="18.5" fill="#555555" textLength="31.54" lengthAdjust="spacingAndGlyphs">0.60</text>
<line x1="144.40" y1="595.30" x2="144.40" y2="600.80" stroke="#111" stroke-width="1.3"/>
<text x="135.58" y="618.00" font-family="Liberation Serif" font-size="18.3" fill="#555555" textLength="17.83" lengthAdjust="spacingAndGlyphs">10</text>
<line x1="252.00" y1="595.30" x2="252.00" y2="600.80" stroke="#111" stroke-width="1.3"/>
<text x="243.38" y="618.00" font-family="Liberation Serif" font-size="18.3" fill="#555555" textLength="17.42" lengthAdjust="spacingAndGlyphs">90</text>
<line x1="359.40" y1="595.30" x2="359.40" y2="600.80" stroke="#111" stroke-width="1.3"/>
<text x="346.56" y="618.00" font-family="Liberation Serif" font-size="18.3" fill="#555555" textLength="25.91" lengthAdjust="spacingAndGlyphs">180</text>
<line x1="499.30" y1="595.30" x2="499.30" y2="600.80" stroke="#111" stroke-width="1.3"/>
<text x="490.48" y="618.00" font-family="Liberation Serif" font-size="18.3" fill="#555555" textLength="17.83" lengthAdjust="spacingAndGlyphs">10</text>
<line x1="606.70" y1="595.30" x2="606.70" y2="600.80" stroke="#111" stroke-width="1.3"/>
<text x="598.08" y="618.00" font-family="Liberation Serif" font-size="18.3" fill="#555555" textLength="17.42" lengthAdjust="spacingAndGlyphs">90</text>
<line x1="714.50" y1="595.30" x2="714.50" y2="600.80" stroke="#111" stroke-width="1.3"/>
<text x="701.66" y="618.00" font-family="Liberation Serif" font-size="18.3" fill="#555555" textLength="25.91" lengthAdjust="spacingAndGlyphs">180</text>
<line x1="80.30" y1="666.50" x2="80.30" y2="831.70" stroke="#303030" stroke-width="1.5"/>
<line x1="79.60" y1="831.10" x2="422.90" y2="831.10" stroke="#151515" stroke-width="1.5"/>
<line x1="431.10" y1="831.10" x2="778.70" y2="831.10" stroke="#151515" stroke-width="1.5"/>
<line x1="75.10" y1="674.60" x2="80.30" y2="674.60" stroke="#111" stroke-width="1.3"/>
<text x="39.18" y="680.80" font-family="Liberation Serif" font-size="18.5" fill="#555555" textLength="31.35" lengthAdjust="spacingAndGlyphs">0.66</text>
<line x1="75.10" y1="732.40" x2="80.30" y2="732.40" stroke="#111" stroke-width="1.3"/>
<text x="39.19" y="738.60" font-family="Liberation Serif" font-size="18.5" fill="#555555" textLength="31.08" lengthAdjust="spacingAndGlyphs">0.64</text>
<line x1="75.10" y1="790.70" x2="80.30" y2="790.70" stroke="#111" stroke-width="1.3"/>
<text x="39.17" y="796.90" font-family="Liberation Serif" font-size="18.5" fill="#555555" textLength="31.83" lengthAdjust="spacingAndGlyphs">0.62</text>
<line x1="144.40" y1="831.10" x2="144.40" y2="836.60" stroke="#111" stroke-width="1.3"/>
<text x="135.58" y="853.90" font-family="Liberation Serif" font-size="18.3" fill="#555555" textLength="17.83" lengthAdjust="spacingAndGlyphs">10</text>
<line x1="251.60" y1="831.10" x2="251.60" y2="836.60" stroke="#111" stroke-width="1.3"/>
<text x="242.98" y="853.90" font-family="Liberation Serif" font-size="18.3" fill="#555555" textLength="17.42" lengthAdjust="spacingAndGlyphs">90</text>
<line x1="358.70" y1="831.10" x2="358.70" y2="836.60" stroke="#111" stroke-width="1.3"/>
<text x="345.86" y="853.90" font-family="Liberation Serif" font-size="18.3" fill="#555555" textLength="25.91" lengthAdjust="spacingAndGlyphs">180</text>
<line x1="496.75" y1="831.10" x2="496.75" y2="836.60" stroke="#111" stroke-width="1.3"/>
<text x="487.93" y="853.90" font-family="Liberation Serif" font-size="18.3" fill="#555555" textLength="17.83" lengthAdjust="spacingAndGlyphs">10</text>
<line x1="605.20" y1="831.10" x2="605.20" y2="836.60" stroke="#111" stroke-width="1.3"/>
<text x="596.58" y="853.90" font-family="Liberation Serif" font-size="18.3" fill="#555555" textLength="17.42" lengthAdjust="spacingAndGlyphs">90</text>
<line x1="713.10" y1="831.10" x2="713.10" y2="836.60" stroke="#111" stroke-width="1.3"/>
<text x="700.26" y="853.90" font-family="Liberation Serif" font-size="18.3" fill="#555555" textLength="25.91" lengthAdjust="spacingAndGlyphs">180</text>
<text x="324.06" y="878.80" font-family="Liberation Serif" font-size="23.4" fill="#000" textLength="207.00" lengthAdjust="spacingAndGlyphs">Time (days) post-injury</text>
<text transform="translate(26.00,757.80) rotate(-90)" x="-1.29" y="0" font-family="Liberation Serif" font-size="34" fill="#000" textLength="280.26" lengthAdjust="spacingAndGlyphs">Clustering coefficient</text>
<line x1="131.40" y1="495.30" x2="131.40" y2="533.40" stroke="#d2202b" stroke-width="2.2"/>
<line x1="124.80" y1="495.30" x2="138.00" y2="495.30" stroke="#d2202b" stroke-width="2.2"/>
<line x1="124.80" y1="533.40" x2="138.00" y2="533.40" stroke="#d2202b" stroke-width="2.2"/>
<rect x="128.87" y="511.97" width="5.06" height="5.06" fill="#d2202b"/>
<line x1="157.90" y1="529.70" x2="157.90" y2="576.90" stroke="#000000" stroke-width="2.5"/>
<line x1="151.30" y1="529.70" x2="164.50" y2="529.70" stroke="#000000" stroke-width="2.5"/>
<line x1="151.30" y1="576.90" x2="164.50" y2="576.90" stroke="#000000" stroke-width="2.5"/>
<circle cx="157.90" cy="553.60" r="2.75" fill="#000000"/>
<line x1="238.70" y1="495.70" x2="238.70" y2="545.40" stroke="#d2202b" stroke-width="2.2"/>
<line x1="232.10" y1="495.70" x2="245.30" y2="495.70" stroke="#d2202b" stroke-width="2.2"/>
<line x1="232.10" y1="545.40" x2="245.30" y2="545.40" stroke="#d2202b" stroke-width="2.2"/>
<rect x="236.17" y="517.97" width="5.06" height="5.06" fill="#d2202b"/>
<line x1="265.40" y1="507.50" x2="265.40" y2="571.90" stroke="#000000" stroke-width="2.5"/>
<line x1="258.80" y1="507.50" x2="272.00" y2="507.50" stroke="#000000" stroke-width="2.5"/>
<line x1="258.80" y1="571.90" x2="272.00" y2="571.90" stroke="#000000" stroke-width="2.5"/>
<circle cx="265.40" cy="539.70" r="2.75" fill="#000000"/>
<line x1="346.20" y1="525.60" x2="346.20" y2="582.10" stroke="#d2202b" stroke-width="2.2"/>
<line x1="339.60" y1="525.60" x2="352.80" y2="525.60" stroke="#d2202b" stroke-width="2.2"/>
<line x1="339.60" y1="582.10" x2="352.80" y2="582.10" stroke="#d2202b" stroke-width="2.2"/>
<rect x="343.67" y="551.37" width="5.06" height="5.06" fill="#d2202b"/>
<line x1="373.10" y1="508.80" x2="373.10" y2="567.80" stroke="#000000" stroke-width="2.5"/>
<line x1="366.50" y1="508.80" x2="379.70" y2="508.80" stroke="#000000" stroke-width="2.5"/>
<line x1="366.50" y1="567.80" x2="379.70" y2="567.80" stroke="#000000" stroke-width="2.5"/>
<circle cx="373.10" cy="538.50" r="2.75" fill="#000000"/>
<line x1="131.40" y1="464.20" x2="162.40" y2="464.20" stroke="#111" stroke-width="1.35"/>
<path d="M146.90,454.95L146.90,460.45M144.52,456.32L149.28,459.07M144.52,459.07L149.28,456.32" stroke="#3a3a3a" stroke-width="0.9" fill="none"/>
<g fill="#222"><circle cx="146.90" cy="454.95" r="0.85"/><circle cx="146.90" cy="460.45" r="0.85"/><circle cx="144.52" cy="456.32" r="0.85"/><circle cx="149.28" cy="459.07" r="0.85"/><circle cx="144.52" cy="459.07" r="0.85"/><circle cx="149.28" cy="456.32" r="0.85"/></g>
<line x1="486.00" y1="527.60" x2="486.00" y2="557.80" stroke="#d2202b" stroke-width="2.2"/>
<line x1="479.40" y1="527.60" x2="492.60" y2="527.60" stroke="#d2202b" stroke-width="2.2"/>
<line x1="479.40" y1="557.80" x2="492.60" y2="557.80" stroke="#d2202b" stroke-width="2.2"/>
<rect x="483.47" y="540.07" width="5.06" height="5.06" fill="#d2202b"/>
<line x1="513.00" y1="520.70" x2="513.00" y2="563.90" stroke="#000000" stroke-width="2.5"/>
<line x1="506.40" y1="520.70" x2="519.60" y2="520.70" stroke="#000000" stroke-width="2.5"/>
<line x1="506.40" y1="563.90" x2="519.60" y2="563.90" stroke="#000000" stroke-width="2.5"/>
<circle cx="513.00" cy="542.60" r="2.75" fill="#000000"/>
<line x1="593.60" y1="496.00" x2="593.60" y2="538.20" stroke="#d2202b" stroke-width="2.2"/>
<line x1="587.00" y1="496.00" x2="600.20" y2="496.00" stroke="#d2202b" stroke-width="2.2"/>
<line x1="587.00" y1="538.20" x2="600.20" y2="538.20" stroke="#d2202b" stroke-width="2.2"/>
<rect x="591.07" y="514.57" width="5.06" height="5.06" fill="#d2202b"/>
<line x1="620.60" y1="525.50" x2="620.60" y2="586.40" stroke="#000000" stroke-width="2.5"/>
<line x1="614.00" y1="525.50" x2="627.20" y2="525.50" stroke="#000000" stroke-width="2.5"/>
<line x1="614.00" y1="586.40" x2="627.20" y2="586.40" stroke="#000000" stroke-width="2.5"/>
<circle cx="620.60" cy="555.90" r="2.75" fill="#000000"/>
<line x1="701.10" y1="509.90" x2="701.10" y2="548.50" stroke="#d2202b" stroke-width="2.2"/>
<line x1="694.50" y1="509.90" x2="707.70" y2="509.90" stroke="#d2202b" stroke-width="2.2"/>
<line x1="694.50" y1="548.50" x2="707.70" y2="548.50" stroke="#d2202b" stroke-width="2.2"/>
<rect x="698.57" y="526.57" width="5.06" height="5.06" fill="#d2202b"/>
<line x1="727.90" y1="521.30" x2="727.90" y2="580.00" stroke="#000000" stroke-width="2.5"/>
<line x1="721.30" y1="521.30" x2="734.50" y2="521.30" stroke="#000000" stroke-width="2.5"/>
<line x1="721.30" y1="580.00" x2="734.50" y2="580.00" stroke="#000000" stroke-width="2.5"/>
<circle cx="727.90" cy="550.50" r="2.75" fill="#000000"/>
<line x1="594.70" y1="478.75" x2="625.70" y2="478.75" stroke="#111" stroke-width="1.35"/>
<path d="M610.40,468.55L610.40,474.05M608.02,469.93L612.78,472.68M608.02,472.68L612.78,469.93" stroke="#3a3a3a" stroke-width="0.9" fill="none"/>
<g fill="#222"><circle cx="610.40" cy="468.55" r="0.85"/><circle cx="610.40" cy="474.05" r="0.85"/><circle cx="608.02" cy="469.93" r="0.85"/><circle cx="612.78" cy="472.68" r="0.85"/><circle cx="608.02" cy="472.68" r="0.85"/><circle cx="612.78" cy="469.93" r="0.85"/></g>
<line x1="131.10" y1="752.80" x2="131.10" y2="784.70" stroke="#d2202b" stroke-width="2.2"/>
<line x1="124.50" y1="752.80" x2="137.70" y2="752.80" stroke="#d2202b" stroke-width="2.2"/>
<line x1="124.50" y1="784.70" x2="137.70" y2="784.70" stroke="#d2202b" stroke-width="2.2"/>
<rect x="128.57" y="766.17" width="5.06" height="5.06" fill="#d2202b"/>
<line x1="157.90" y1="742.00" x2="157.90" y2="780.80" stroke="#000000" stroke-width="2.5"/>
<line x1="151.30" y1="742.00" x2="164.50" y2="742.00" stroke="#000000" stroke-width="2.5"/>
<line x1="151.30" y1="780.80" x2="164.50" y2="780.80" stroke="#000000" stroke-width="2.5"/>
<circle cx="157.90" cy="761.60" r="2.75" fill="#000000"/>
<line x1="238.20" y1="756.60" x2="238.20" y2="797.40" stroke="#d2202b" stroke-width="2.2"/>
<line x1="231.60" y1="756.60" x2="244.80" y2="756.60" stroke="#d2202b" stroke-width="2.2"/>
<line x1="231.60" y1="797.40" x2="244.80" y2="797.40" stroke="#d2202b" stroke-width="2.2"/>
<rect x="235.67" y="774.57" width="5.06" height="5.06" fill="#d2202b"/>
<line x1="264.90" y1="742.40" x2="264.90" y2="795.50" stroke="#000000" stroke-width="2.5"/>
<line x1="258.30" y1="742.40" x2="271.50" y2="742.40" stroke="#000000" stroke-width="2.5"/>
<line x1="258.30" y1="795.50" x2="271.50" y2="795.50" stroke="#000000" stroke-width="2.5"/>
<circle cx="264.90" cy="768.90" r="2.75" fill="#000000"/>
<line x1="345.00" y1="775.60" x2="345.00" y2="821.90" stroke="#d2202b" stroke-width="2.2"/>
<line x1="338.40" y1="775.60" x2="351.60" y2="775.60" stroke="#d2202b" stroke-width="2.2"/>
<line x1="338.40" y1="821.90" x2="351.60" y2="821.90" stroke="#d2202b" stroke-width="2.2"/>
<rect x="342.47" y="796.17" width="5.06" height="5.06" fill="#d2202b"/>
<line x1="372.00" y1="707.70" x2="372.00" y2="756.40" stroke="#000000" stroke-width="2.5"/>
<line x1="365.40" y1="707.70" x2="378.60" y2="707.70" stroke="#000000" stroke-width="2.5"/>
<line x1="365.40" y1="756.40" x2="378.60" y2="756.40" stroke="#000000" stroke-width="2.5"/>
<circle cx="372.00" cy="732.40" r="2.75" fill="#000000"/>
<line x1="342.00" y1="692.50" x2="372.75" y2="692.50" stroke="#111" stroke-width="1.35"/>
<path d="M357.40,682.05L357.40,687.55M355.02,683.42L359.78,686.17M355.02,686.17L359.78,683.42" stroke="#3a3a3a" stroke-width="0.9" fill="none"/>
<g fill="#222"><circle cx="357.40" cy="682.05" r="0.85"/><circle cx="357.40" cy="687.55" r="0.85"/><circle cx="355.02" cy="683.42" r="0.85"/><circle cx="359.78" cy="686.17" r="0.85"/><circle cx="355.02" cy="686.17" r="0.85"/><circle cx="359.78" cy="683.42" r="0.85"/></g>
<line x1="483.00" y1="749.30" x2="483.00" y2="779.20" stroke="#d2202b" stroke-width="2.2"/>
<line x1="476.40" y1="749.30" x2="489.60" y2="749.30" stroke="#d2202b" stroke-width="2.2"/>
<line x1="476.40" y1="779.20" x2="489.60" y2="779.20" stroke="#d2202b" stroke-width="2.2"/>
<rect x="480.47" y="761.47" width="5.06" height="5.06" fill="#d2202b"/>
<line x1="510.00" y1="761.10" x2="510.00" y2="804.10" stroke="#000000" stroke-width="2.5"/>
<line x1="503.40" y1="761.10" x2="516.60" y2="761.10" stroke="#000000" stroke-width="2.5"/>
<line x1="503.40" y1="804.10" x2="516.60" y2="804.10" stroke="#000000" stroke-width="2.5"/>
<circle cx="510.00" cy="782.50" r="2.75" fill="#000000"/>
<line x1="591.40" y1="745.20" x2="591.40" y2="783.30" stroke="#d2202b" stroke-width="2.2"/>
<line x1="584.80" y1="745.20" x2="598.00" y2="745.20" stroke="#d2202b" stroke-width="2.2"/>
<line x1="584.80" y1="783.30" x2="598.00" y2="783.30" stroke="#d2202b" stroke-width="2.2"/>
<rect x="588.87" y="761.87" width="5.06" height="5.06" fill="#d2202b"/>
<line x1="618.80" y1="742.30" x2="618.80" y2="797.50" stroke="#000000" stroke-width="2.5"/>
<line x1="612.20" y1="742.30" x2="625.40" y2="742.30" stroke="#000000" stroke-width="2.5"/>
<line x1="612.20" y1="797.50" x2="625.40" y2="797.50" stroke="#000000" stroke-width="2.5"/>
<circle cx="618.80" cy="769.80" r="2.75" fill="#000000"/>
<line x1="700.00" y1="733.80" x2="700.00" y2="769.50" stroke="#d2202b" stroke-width="2.2"/>
<line x1="693.40" y1="733.80" x2="706.60" y2="733.80" stroke="#d2202b" stroke-width="2.2"/>
<line x1="693.40" y1="769.50" x2="706.60" y2="769.50" stroke="#d2202b" stroke-width="2.2"/>
<rect x="697.47" y="749.07" width="5.06" height="5.06" fill="#d2202b"/>
<line x1="727.10" y1="764.40" x2="727.10" y2="817.80" stroke="#000000" stroke-width="2.5"/>
<line x1="720.50" y1="764.40" x2="733.70" y2="764.40" stroke="#000000" stroke-width="2.5"/>
<line x1="720.50" y1="817.80" x2="733.70" y2="817.80" stroke="#000000" stroke-width="2.5"/>
<circle cx="727.10" cy="791.20" r="2.75" fill="#000000"/>
<line x1="699.00" y1="718.00" x2="729.75" y2="718.00" stroke="#111" stroke-width="1.35"/>
<path d="M714.90,707.55L714.90,713.05M712.52,708.92L717.28,711.67M712.52,711.67L717.28,708.92" stroke="#3a3a3a" stroke-width="0.9" fill="none"/>
<g fill="#222"><circle cx="714.90" cy="707.55" r="0.85"/><circle cx="714.90" cy="713.05" r="0.85"/><circle cx="712.52" cy="708.92" r="0.85"/><circle cx="717.28" cy="711.67" r="0.85"/><circle cx="712.52" cy="711.67" r="0.85"/><circle cx="717.28" cy="708.92" r="0.85"/></g>
<rect x="173.9" y="892.3" width="492.2" height="122.0" fill="none" stroke="#000" stroke-width="1.5"/>
<text x="187.74" y="935.00" font-family="Liberation Serif" font-size="31" fill="#000" textLength="80.53" lengthAdjust="spacingAndGlyphs">Group</text>
<rect x="219.3" y="948.1" width="14.7" height="14.5" fill="#d8363c"/>
<rect x="219.3" y="969.2" width="14.7" height="14.4" fill="#000"/>
<text x="250.99" y="961.00" font-family="Liberation Serif" font-size="18.3" fill="#000" textLength="76.67" lengthAdjust="spacingAndGlyphs">Mild TBI</text>
<text x="250.99" y="982.00" font-family="Liberation Serif" font-size="18.3" fill="#000" textLength="66.33" lengthAdjust="spacingAndGlyphs">Mild OI</text>
<text x="380.06" y="934.00" font-family="Liberation Serif" font-size="30.5" fill="#000" textLength="132.00" lengthAdjust="spacingAndGlyphs">Effect size</text>
<circle cx="407.5" cy="952.0" r="3.7" fill="#000"/>
<circle cx="407.0" cy="977.0" r="5.65" fill="#000"/>
<circle cx="407.0" cy="1002.1" r="7.9" fill="#000"/>
<text x="434.27" y="955.8" font-family="Liberation Serif" font-size="20.3" textLength="190.93" lengthAdjust="spacingAndGlyphs">Small, 0.20 ≤ |<tspan font-style="italic">d</tspan>| &lt; 0.50</text>
<text x="434.99" y="980.5" font-family="Liberation Serif" font-size="20.3" textLength="211.41" lengthAdjust="spacingAndGlyphs">Medium, 0.50 ≤ |<tspan font-style="italic">d</tspan>| &lt; 0.80</text>
<text x="434.99" y="1005.5" font-family="Liberation Serif" font-size="20.3" textLength="133.31" lengthAdjust="spacingAndGlyphs">Large, |<tspan font-style="italic">d</tspan>| &gt; 0.80</text>
</svg></body></html>
